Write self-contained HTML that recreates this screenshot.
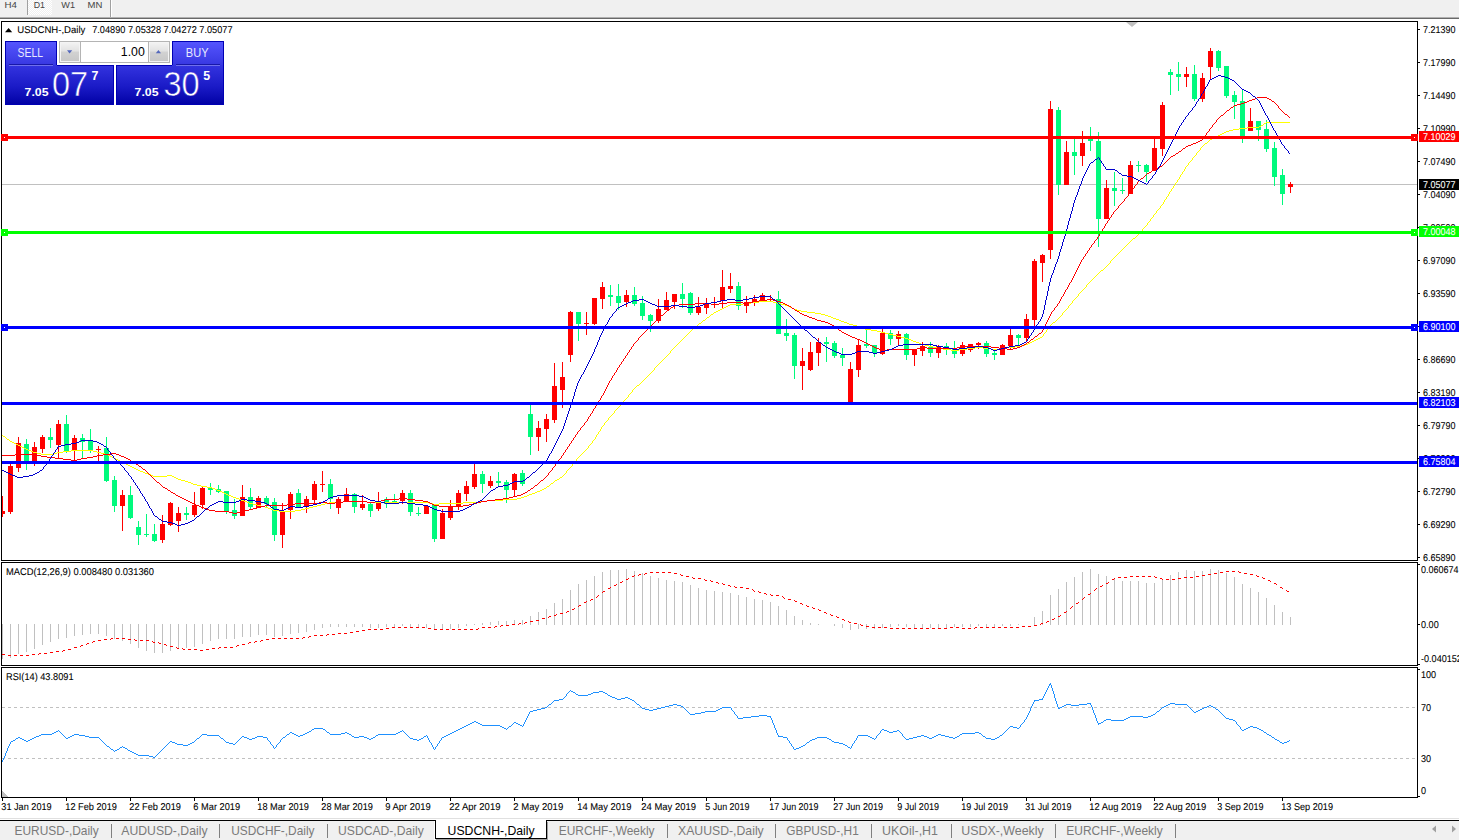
<!DOCTYPE html>
<html><head><meta charset="utf-8"><title>USDCNH-,Daily</title>
<style>html,body{margin:0;padding:0;background:#fff;overflow:hidden}body{width:1459px;height:840px}svg{display:block}text{white-space:pre}.gp text{text-rendering:geometricPrecision}</style>
</head><body>
<svg width="1459" height="840" viewBox="0 0 1459 840" font-family="'Liberation Sans', 'DejaVu Sans', sans-serif">
<defs>
<linearGradient id="gb" x1="0" y1="0" x2="0" y2="1"><stop offset="0" stop-color="#5656ff"/><stop offset="1" stop-color="#3636e0"/></linearGradient>
<linearGradient id="gp" x1="0" y1="0" x2="0" y2="1"><stop offset="0" stop-color="#3434e0"/><stop offset="0.55" stop-color="#1a1ac6"/><stop offset="1" stop-color="#0000a4"/></linearGradient>
<linearGradient id="gpu" gradientUnits="userSpaceOnUse" x1="0" y1="65" x2="0" y2="105"><stop offset="0" stop-color="#3434e0"/><stop offset="0.55" stop-color="#1a1ac6"/><stop offset="1" stop-color="#0000a4"/></linearGradient>
<linearGradient id="gs" x1="0" y1="0" x2="0" y2="1"><stop offset="0" stop-color="#f2f2f2"/><stop offset="0.45" stop-color="#e2e2e2"/><stop offset="0.5" stop-color="#d2d2d2"/><stop offset="1" stop-color="#c8c8c8"/></linearGradient>
<pattern id="chk" width="2" height="2" patternUnits="userSpaceOnUse"><rect width="2" height="2" fill="#f0f0f0"/><rect width="1" height="1" fill="#fff"/><rect x="1" y="1" width="1" height="1" fill="#fff"/></pattern>
</defs>
<g shape-rendering="crispEdges">
<rect x="0" y="0" width="1459" height="840" fill="#fff"/>
<rect x="0" y="0" width="1459" height="17" fill="#f0f0f0"/>
<rect x="0" y="17" width="1459" height="1" fill="#b0b0b0"/>
<rect x="0" y="18" width="1459" height="1" fill="#696969"/>
<rect x="28" y="0" width="24" height="15" fill="url(#chk)"/>
<rect x="27" y="0" width="1" height="15" fill="#a0a0a0"/>
<rect x="110" y="0" width="1" height="17" fill="#a0a0a0"/>
<rect x="111" y="0" width="1" height="17" fill="#fff"/>
<rect x="0" y="818" width="1459" height="1" fill="#e0e0e0"/>
<rect x="0" y="821" width="1459" height="19" fill="#f0f0f0"/>
<rect x="0" y="820" width="1459" height="1" fill="#000"/>
<rect x="434" y="821" width="1" height="19" fill="#fff"/>
<rect x="435" y="820" width="112" height="19" fill="#000"/>
<rect x="436" y="820" width="110" height="18" fill="#fff"/>
<rect x="436" y="839" width="112" height="1" fill="#a0a0a0"/>
<rect x="547" y="822" width="1" height="18" fill="#a0a0a0"/>
<rect x="1" y="21" width="1417" height="1" fill="#000"/>
<rect x="1" y="21" width="1" height="777" fill="#000"/>
<rect x="1417" y="21" width="1" height="777" fill="#000"/>
<rect x="1" y="560" width="1417" height="1" fill="#000"/>
<rect x="1" y="562" width="1417" height="1" fill="#000"/>
<rect x="1" y="665" width="1417" height="1" fill="#000"/>
<rect x="1" y="667" width="1417" height="1" fill="#000"/>
<rect x="1" y="797" width="1417" height="1" fill="#000"/>
<rect x="2" y="184" width="1415" height="1" fill="#c0c0c0"/>
<rect x="2" y="624" width="1" height="35" fill="#c0c0c0"/>
<rect x="10" y="624" width="1" height="34" fill="#c0c0c0"/>
<rect x="18" y="624" width="1" height="30" fill="#c0c0c0"/>
<rect x="26" y="624" width="1" height="28" fill="#c0c0c0"/>
<rect x="34" y="624" width="1" height="25" fill="#c0c0c0"/>
<rect x="42" y="624" width="1" height="21" fill="#c0c0c0"/>
<rect x="50" y="624" width="1" height="18" fill="#c0c0c0"/>
<rect x="58" y="624" width="1" height="15" fill="#c0c0c0"/>
<rect x="66" y="624" width="1" height="14" fill="#c0c0c0"/>
<rect x="74" y="624" width="1" height="12" fill="#c0c0c0"/>
<rect x="82" y="624" width="1" height="11" fill="#c0c0c0"/>
<rect x="90" y="624" width="1" height="10" fill="#c0c0c0"/>
<rect x="98" y="624" width="1" height="10" fill="#c0c0c0"/>
<rect x="106" y="624" width="1" height="12" fill="#c0c0c0"/>
<rect x="114" y="624" width="1" height="15" fill="#c0c0c0"/>
<rect x="122" y="624" width="1" height="17" fill="#c0c0c0"/>
<rect x="130" y="624" width="1" height="20" fill="#c0c0c0"/>
<rect x="138" y="624" width="1" height="24" fill="#c0c0c0"/>
<rect x="146" y="624" width="1" height="27" fill="#c0c0c0"/>
<rect x="154" y="624" width="1" height="29" fill="#c0c0c0"/>
<rect x="162" y="624" width="1" height="29" fill="#c0c0c0"/>
<rect x="170" y="624" width="1" height="27" fill="#c0c0c0"/>
<rect x="178" y="624" width="1" height="25" fill="#c0c0c0"/>
<rect x="186" y="624" width="1" height="24" fill="#c0c0c0"/>
<rect x="194" y="624" width="1" height="23" fill="#c0c0c0"/>
<rect x="202" y="624" width="1" height="20" fill="#c0c0c0"/>
<rect x="210" y="624" width="1" height="17" fill="#c0c0c0"/>
<rect x="218" y="624" width="1" height="15" fill="#c0c0c0"/>
<rect x="226" y="624" width="1" height="15" fill="#c0c0c0"/>
<rect x="234" y="624" width="1" height="15" fill="#c0c0c0"/>
<rect x="242" y="624" width="1" height="13" fill="#c0c0c0"/>
<rect x="250" y="624" width="1" height="13" fill="#c0c0c0"/>
<rect x="258" y="624" width="1" height="11" fill="#c0c0c0"/>
<rect x="266" y="624" width="1" height="11" fill="#c0c0c0"/>
<rect x="274" y="624" width="1" height="13" fill="#c0c0c0"/>
<rect x="282" y="624" width="1" height="12" fill="#c0c0c0"/>
<rect x="290" y="624" width="1" height="10" fill="#c0c0c0"/>
<rect x="298" y="624" width="1" height="9" fill="#c0c0c0"/>
<rect x="306" y="624" width="1" height="8" fill="#c0c0c0"/>
<rect x="314" y="624" width="1" height="6" fill="#c0c0c0"/>
<rect x="322" y="624" width="1" height="4" fill="#c0c0c0"/>
<rect x="330" y="624" width="1" height="3" fill="#c0c0c0"/>
<rect x="338" y="624" width="1" height="3" fill="#c0c0c0"/>
<rect x="346" y="624" width="1" height="3" fill="#c0c0c0"/>
<rect x="354" y="624" width="1" height="3" fill="#c0c0c0"/>
<rect x="362" y="624" width="1" height="3" fill="#c0c0c0"/>
<rect x="370" y="624" width="1" height="4" fill="#c0c0c0"/>
<rect x="378" y="624" width="1" height="4" fill="#c0c0c0"/>
<rect x="386" y="624" width="1" height="3" fill="#c0c0c0"/>
<rect x="394" y="624" width="1" height="3" fill="#c0c0c0"/>
<rect x="402" y="624" width="1" height="2" fill="#c0c0c0"/>
<rect x="410" y="624" width="1" height="3" fill="#c0c0c0"/>
<rect x="418" y="624" width="1" height="3" fill="#c0c0c0"/>
<rect x="426" y="624" width="1" height="4" fill="#c0c0c0"/>
<rect x="434" y="624" width="1" height="6" fill="#c0c0c0"/>
<rect x="442" y="624" width="1" height="6" fill="#c0c0c0"/>
<rect x="450" y="624" width="1" height="5" fill="#c0c0c0"/>
<rect x="458" y="624" width="1" height="4" fill="#c0c0c0"/>
<rect x="466" y="624" width="1" height="2" fill="#c0c0c0"/>
<rect x="474" y="624" width="1" height="1" fill="#c0c0c0"/>
<rect x="482" y="623" width="1" height="2" fill="#c0c0c0"/>
<rect x="490" y="622" width="1" height="3" fill="#c0c0c0"/>
<rect x="498" y="621" width="1" height="4" fill="#c0c0c0"/>
<rect x="506" y="621" width="1" height="4" fill="#c0c0c0"/>
<rect x="514" y="620" width="1" height="5" fill="#c0c0c0"/>
<rect x="522" y="620" width="1" height="5" fill="#c0c0c0"/>
<rect x="530" y="616" width="1" height="9" fill="#c0c0c0"/>
<rect x="538" y="612" width="1" height="13" fill="#c0c0c0"/>
<rect x="546" y="609" width="1" height="16" fill="#c0c0c0"/>
<rect x="554" y="603" width="1" height="22" fill="#c0c0c0"/>
<rect x="562" y="599" width="1" height="26" fill="#c0c0c0"/>
<rect x="570" y="590" width="1" height="35" fill="#c0c0c0"/>
<rect x="578" y="584" width="1" height="41" fill="#c0c0c0"/>
<rect x="586" y="580" width="1" height="45" fill="#c0c0c0"/>
<rect x="594" y="576" width="1" height="49" fill="#c0c0c0"/>
<rect x="602" y="572" width="1" height="53" fill="#c0c0c0"/>
<rect x="610" y="570" width="1" height="55" fill="#c0c0c0"/>
<rect x="618" y="570" width="1" height="55" fill="#c0c0c0"/>
<rect x="626" y="569" width="1" height="56" fill="#c0c0c0"/>
<rect x="634" y="571" width="1" height="54" fill="#c0c0c0"/>
<rect x="642" y="573" width="1" height="52" fill="#c0c0c0"/>
<rect x="650" y="576" width="1" height="49" fill="#c0c0c0"/>
<rect x="658" y="578" width="1" height="47" fill="#c0c0c0"/>
<rect x="666" y="580" width="1" height="45" fill="#c0c0c0"/>
<rect x="674" y="581" width="1" height="44" fill="#c0c0c0"/>
<rect x="682" y="582" width="1" height="43" fill="#c0c0c0"/>
<rect x="690" y="585" width="1" height="40" fill="#c0c0c0"/>
<rect x="698" y="588" width="1" height="37" fill="#c0c0c0"/>
<rect x="706" y="590" width="1" height="35" fill="#c0c0c0"/>
<rect x="714" y="591" width="1" height="34" fill="#c0c0c0"/>
<rect x="722" y="592" width="1" height="33" fill="#c0c0c0"/>
<rect x="730" y="593" width="1" height="32" fill="#c0c0c0"/>
<rect x="738" y="595" width="1" height="30" fill="#c0c0c0"/>
<rect x="746" y="597" width="1" height="28" fill="#c0c0c0"/>
<rect x="754" y="599" width="1" height="26" fill="#c0c0c0"/>
<rect x="762" y="600" width="1" height="25" fill="#c0c0c0"/>
<rect x="770" y="602" width="1" height="23" fill="#c0c0c0"/>
<rect x="778" y="606" width="1" height="19" fill="#c0c0c0"/>
<rect x="786" y="610" width="1" height="15" fill="#c0c0c0"/>
<rect x="794" y="616" width="1" height="9" fill="#c0c0c0"/>
<rect x="802" y="620" width="1" height="5" fill="#c0c0c0"/>
<rect x="810" y="623" width="1" height="2" fill="#c0c0c0"/>
<rect x="818" y="624" width="1" height="1" fill="#c0c0c0"/>
<rect x="834" y="624" width="1" height="2" fill="#c0c0c0"/>
<rect x="842" y="624" width="1" height="4" fill="#c0c0c0"/>
<rect x="850" y="624" width="1" height="6" fill="#c0c0c0"/>
<rect x="858" y="624" width="1" height="5" fill="#c0c0c0"/>
<rect x="866" y="624" width="1" height="5" fill="#c0c0c0"/>
<rect x="874" y="624" width="1" height="5" fill="#c0c0c0"/>
<rect x="882" y="624" width="1" height="4" fill="#c0c0c0"/>
<rect x="890" y="624" width="1" height="3" fill="#c0c0c0"/>
<rect x="898" y="624" width="1" height="2" fill="#c0c0c0"/>
<rect x="906" y="624" width="1" height="3" fill="#c0c0c0"/>
<rect x="914" y="624" width="1" height="4" fill="#c0c0c0"/>
<rect x="922" y="624" width="1" height="4" fill="#c0c0c0"/>
<rect x="930" y="624" width="1" height="4" fill="#c0c0c0"/>
<rect x="938" y="624" width="1" height="4" fill="#c0c0c0"/>
<rect x="946" y="624" width="1" height="4" fill="#c0c0c0"/>
<rect x="954" y="624" width="1" height="3" fill="#c0c0c0"/>
<rect x="962" y="624" width="1" height="3" fill="#c0c0c0"/>
<rect x="970" y="624" width="1" height="3" fill="#c0c0c0"/>
<rect x="978" y="624" width="1" height="2" fill="#c0c0c0"/>
<rect x="986" y="624" width="1" height="3" fill="#c0c0c0"/>
<rect x="994" y="624" width="1" height="3" fill="#c0c0c0"/>
<rect x="1002" y="624" width="1" height="2" fill="#c0c0c0"/>
<rect x="1010" y="624" width="1" height="2" fill="#c0c0c0"/>
<rect x="1018" y="624" width="1" height="1" fill="#c0c0c0"/>
<rect x="1034" y="617" width="1" height="8" fill="#c0c0c0"/>
<rect x="1042" y="611" width="1" height="14" fill="#c0c0c0"/>
<rect x="1050" y="595" width="1" height="30" fill="#c0c0c0"/>
<rect x="1058" y="589" width="1" height="36" fill="#c0c0c0"/>
<rect x="1066" y="582" width="1" height="43" fill="#c0c0c0"/>
<rect x="1074" y="577" width="1" height="48" fill="#c0c0c0"/>
<rect x="1082" y="572" width="1" height="53" fill="#c0c0c0"/>
<rect x="1090" y="569" width="1" height="56" fill="#c0c0c0"/>
<rect x="1098" y="574" width="1" height="51" fill="#c0c0c0"/>
<rect x="1106" y="576" width="1" height="49" fill="#c0c0c0"/>
<rect x="1114" y="579" width="1" height="46" fill="#c0c0c0"/>
<rect x="1122" y="581" width="1" height="44" fill="#c0c0c0"/>
<rect x="1130" y="581" width="1" height="44" fill="#c0c0c0"/>
<rect x="1138" y="581" width="1" height="44" fill="#c0c0c0"/>
<rect x="1146" y="583" width="1" height="42" fill="#c0c0c0"/>
<rect x="1154" y="583" width="1" height="42" fill="#c0c0c0"/>
<rect x="1162" y="580" width="1" height="45" fill="#c0c0c0"/>
<rect x="1170" y="575" width="1" height="50" fill="#c0c0c0"/>
<rect x="1178" y="572" width="1" height="53" fill="#c0c0c0"/>
<rect x="1186" y="570" width="1" height="55" fill="#c0c0c0"/>
<rect x="1194" y="571" width="1" height="54" fill="#c0c0c0"/>
<rect x="1202" y="571" width="1" height="54" fill="#c0c0c0"/>
<rect x="1210" y="569" width="1" height="56" fill="#c0c0c0"/>
<rect x="1218" y="570" width="1" height="55" fill="#c0c0c0"/>
<rect x="1226" y="573" width="1" height="52" fill="#c0c0c0"/>
<rect x="1234" y="577" width="1" height="48" fill="#c0c0c0"/>
<rect x="1242" y="584" width="1" height="41" fill="#c0c0c0"/>
<rect x="1250" y="588" width="1" height="37" fill="#c0c0c0"/>
<rect x="1258" y="592" width="1" height="33" fill="#c0c0c0"/>
<rect x="1266" y="598" width="1" height="27" fill="#c0c0c0"/>
<rect x="1274" y="605" width="1" height="20" fill="#c0c0c0"/>
<rect x="1282" y="612" width="1" height="13" fill="#c0c0c0"/>
<rect x="1290" y="617" width="1" height="8" fill="#c0c0c0"/>
<line x1="2" y1="707.5" x2="1417" y2="707.5" stroke="#c0c0c0" stroke-width="1" stroke-dasharray="3,3"/>
<line x1="2" y1="758.5" x2="1417" y2="758.5" stroke="#c0c0c0" stroke-width="1" stroke-dasharray="3,3"/>
<polygon points="2,791 2,797 8,797" fill="#c0c0c0"/>
<polygon points="1126,22 1138,22 1132,27" fill="#c0c0c0" shape-rendering="auto"/>
<rect x="2" y="496" width="1" height="21" fill="#ff0000"/>
<rect x="2" y="511" width="3" height="3" fill="#ff0000"/>
<rect x="10" y="464" width="1" height="50" fill="#ff0000"/>
<rect x="8" y="466" width="5" height="46" fill="#ff0000"/>
<rect x="18" y="437" width="1" height="35" fill="#ff0000"/>
<rect x="16" y="443" width="5" height="25" fill="#ff0000"/>
<rect x="26" y="439" width="1" height="31" fill="#00fa7d"/>
<rect x="24" y="444" width="5" height="18" fill="#00fa7d"/>
<rect x="34" y="442" width="1" height="24" fill="#ff0000"/>
<rect x="32" y="447" width="5" height="15" fill="#ff0000"/>
<rect x="42" y="435" width="1" height="18" fill="#ff0000"/>
<rect x="40" y="437" width="5" height="12" fill="#ff0000"/>
<rect x="50" y="428" width="1" height="20" fill="#00fa7d"/>
<rect x="48" y="437" width="5" height="3" fill="#00fa7d"/>
<rect x="58" y="420" width="1" height="39" fill="#ff0000"/>
<rect x="56" y="424" width="5" height="21" fill="#ff0000"/>
<rect x="66" y="415" width="1" height="38" fill="#00fa7d"/>
<rect x="64" y="424" width="5" height="27" fill="#00fa7d"/>
<rect x="74" y="435" width="1" height="26" fill="#ff0000"/>
<rect x="72" y="438" width="5" height="13" fill="#ff0000"/>
<rect x="82" y="434" width="1" height="24" fill="#00fa7d"/>
<rect x="80" y="438" width="5" height="4" fill="#00fa7d"/>
<rect x="90" y="429" width="1" height="24" fill="#00fa7d"/>
<rect x="88" y="441" width="5" height="10" fill="#00fa7d"/>
<rect x="98" y="446" width="1" height="15" fill="#ff0000"/>
<rect x="96" y="449" width="5" height="1" fill="#ff0000"/>
<rect x="106" y="437" width="1" height="45" fill="#00fa7d"/>
<rect x="104" y="448" width="5" height="33" fill="#00fa7d"/>
<rect x="114" y="476" width="1" height="36" fill="#00fa7d"/>
<rect x="112" y="480" width="5" height="26" fill="#00fa7d"/>
<rect x="122" y="490" width="1" height="41" fill="#ff0000"/>
<rect x="120" y="495" width="5" height="11" fill="#ff0000"/>
<rect x="130" y="486" width="1" height="33" fill="#00fa7d"/>
<rect x="128" y="495" width="5" height="23" fill="#00fa7d"/>
<rect x="138" y="521" width="1" height="24" fill="#00fa7d"/>
<rect x="136" y="527" width="5" height="8" fill="#00fa7d"/>
<rect x="146" y="514" width="1" height="23" fill="#00fa7d"/>
<rect x="144" y="534" width="5" height="1" fill="#00fa7d"/>
<rect x="154" y="524" width="1" height="18" fill="#00fa7d"/>
<rect x="152" y="534" width="5" height="7" fill="#00fa7d"/>
<rect x="162" y="515" width="1" height="28" fill="#ff0000"/>
<rect x="160" y="524" width="5" height="16" fill="#ff0000"/>
<rect x="170" y="502" width="1" height="24" fill="#ff0000"/>
<rect x="168" y="503" width="5" height="22" fill="#ff0000"/>
<rect x="178" y="507" width="1" height="25" fill="#ff0000"/>
<rect x="176" y="513" width="5" height="8" fill="#ff0000"/>
<rect x="186" y="507" width="1" height="13" fill="#00fa7d"/>
<rect x="184" y="513" width="5" height="2" fill="#00fa7d"/>
<rect x="194" y="492" width="1" height="25" fill="#ff0000"/>
<rect x="192" y="505" width="5" height="10" fill="#ff0000"/>
<rect x="202" y="486" width="1" height="23" fill="#ff0000"/>
<rect x="200" y="488" width="5" height="17" fill="#ff0000"/>
<rect x="210" y="483" width="1" height="12" fill="#00fa7d"/>
<rect x="208" y="488" width="5" height="2" fill="#00fa7d"/>
<rect x="218" y="485" width="1" height="8" fill="#00fa7d"/>
<rect x="216" y="489" width="5" height="3" fill="#00fa7d"/>
<rect x="226" y="491" width="1" height="23" fill="#00fa7d"/>
<rect x="224" y="491" width="5" height="20" fill="#00fa7d"/>
<rect x="234" y="499" width="1" height="20" fill="#00fa7d"/>
<rect x="232" y="510" width="5" height="6" fill="#00fa7d"/>
<rect x="242" y="485" width="1" height="31" fill="#ff0000"/>
<rect x="240" y="497" width="5" height="19" fill="#ff0000"/>
<rect x="250" y="488" width="1" height="21" fill="#00fa7d"/>
<rect x="248" y="497" width="5" height="10" fill="#00fa7d"/>
<rect x="258" y="496" width="1" height="12" fill="#ff0000"/>
<rect x="256" y="498" width="5" height="10" fill="#ff0000"/>
<rect x="266" y="496" width="1" height="12" fill="#00fa7d"/>
<rect x="264" y="498" width="5" height="6" fill="#00fa7d"/>
<rect x="274" y="498" width="1" height="43" fill="#00fa7d"/>
<rect x="272" y="502" width="5" height="33" fill="#00fa7d"/>
<rect x="282" y="503" width="1" height="45" fill="#ff0000"/>
<rect x="280" y="512" width="5" height="23" fill="#ff0000"/>
<rect x="290" y="492" width="1" height="27" fill="#ff0000"/>
<rect x="288" y="494" width="5" height="16" fill="#ff0000"/>
<rect x="298" y="489" width="1" height="19" fill="#00fa7d"/>
<rect x="296" y="493" width="5" height="14" fill="#00fa7d"/>
<rect x="306" y="496" width="1" height="17" fill="#ff0000"/>
<rect x="304" y="499" width="5" height="8" fill="#ff0000"/>
<rect x="314" y="481" width="1" height="22" fill="#ff0000"/>
<rect x="312" y="484" width="5" height="16" fill="#ff0000"/>
<rect x="322" y="471" width="1" height="21" fill="#ff0000"/>
<rect x="320" y="484" width="5" height="1" fill="#ff0000"/>
<rect x="330" y="479" width="1" height="30" fill="#00fa7d"/>
<rect x="328" y="484" width="5" height="15" fill="#00fa7d"/>
<rect x="338" y="497" width="1" height="17" fill="#ff0000"/>
<rect x="336" y="499" width="5" height="9" fill="#ff0000"/>
<rect x="346" y="488" width="1" height="13" fill="#ff0000"/>
<rect x="344" y="494" width="5" height="7" fill="#ff0000"/>
<rect x="354" y="493" width="1" height="20" fill="#00fa7d"/>
<rect x="352" y="494" width="5" height="13" fill="#00fa7d"/>
<rect x="362" y="495" width="1" height="15" fill="#ff0000"/>
<rect x="360" y="504" width="5" height="4" fill="#ff0000"/>
<rect x="370" y="503" width="1" height="14" fill="#00fa7d"/>
<rect x="368" y="504" width="5" height="7" fill="#00fa7d"/>
<rect x="378" y="492" width="1" height="19" fill="#ff0000"/>
<rect x="376" y="501" width="5" height="8" fill="#ff0000"/>
<rect x="386" y="497" width="1" height="11" fill="#00fa7d"/>
<rect x="384" y="499" width="5" height="5" fill="#00fa7d"/>
<rect x="394" y="494" width="1" height="9" fill="#00fa7d"/>
<rect x="392" y="501" width="5" height="1" fill="#00fa7d"/>
<rect x="402" y="490" width="1" height="14" fill="#ff0000"/>
<rect x="400" y="493" width="5" height="8" fill="#ff0000"/>
<rect x="410" y="490" width="1" height="26" fill="#00fa7d"/>
<rect x="408" y="493" width="5" height="19" fill="#00fa7d"/>
<rect x="418" y="507" width="1" height="9" fill="#00fa7d"/>
<rect x="416" y="513" width="5" height="1" fill="#00fa7d"/>
<rect x="426" y="505" width="1" height="9" fill="#ff0000"/>
<rect x="424" y="506" width="5" height="8" fill="#ff0000"/>
<rect x="434" y="504" width="1" height="38" fill="#00fa7d"/>
<rect x="432" y="505" width="5" height="34" fill="#00fa7d"/>
<rect x="442" y="509" width="1" height="30" fill="#ff0000"/>
<rect x="440" y="513" width="5" height="26" fill="#ff0000"/>
<rect x="450" y="500" width="1" height="20" fill="#ff0000"/>
<rect x="448" y="506" width="5" height="12" fill="#ff0000"/>
<rect x="458" y="490" width="1" height="20" fill="#ff0000"/>
<rect x="456" y="493" width="5" height="14" fill="#ff0000"/>
<rect x="466" y="481" width="1" height="20" fill="#ff0000"/>
<rect x="464" y="486" width="5" height="8" fill="#ff0000"/>
<rect x="474" y="464" width="1" height="25" fill="#ff0000"/>
<rect x="472" y="474" width="5" height="13" fill="#ff0000"/>
<rect x="482" y="471" width="1" height="22" fill="#00fa7d"/>
<rect x="480" y="474" width="5" height="10" fill="#00fa7d"/>
<rect x="490" y="476" width="1" height="12" fill="#ff0000"/>
<rect x="488" y="481" width="5" height="5" fill="#ff0000"/>
<rect x="498" y="472" width="1" height="14" fill="#00fa7d"/>
<rect x="496" y="481" width="5" height="2" fill="#00fa7d"/>
<rect x="506" y="480" width="1" height="23" fill="#00fa7d"/>
<rect x="504" y="482" width="5" height="8" fill="#00fa7d"/>
<rect x="514" y="473" width="1" height="23" fill="#ff0000"/>
<rect x="512" y="474" width="5" height="16" fill="#ff0000"/>
<rect x="522" y="470" width="1" height="16" fill="#00fa7d"/>
<rect x="520" y="473" width="5" height="11" fill="#00fa7d"/>
<rect x="530" y="405" width="1" height="50" fill="#00fa7d"/>
<rect x="528" y="414" width="5" height="23" fill="#00fa7d"/>
<rect x="538" y="421" width="1" height="30" fill="#ff0000"/>
<rect x="536" y="428" width="5" height="9" fill="#ff0000"/>
<rect x="546" y="414" width="1" height="28" fill="#ff0000"/>
<rect x="544" y="419" width="5" height="10" fill="#ff0000"/>
<rect x="554" y="363" width="1" height="60" fill="#ff0000"/>
<rect x="552" y="386" width="5" height="34" fill="#ff0000"/>
<rect x="562" y="362" width="1" height="46" fill="#ff0000"/>
<rect x="560" y="377" width="5" height="13" fill="#ff0000"/>
<rect x="570" y="311" width="1" height="51" fill="#ff0000"/>
<rect x="568" y="312" width="5" height="43" fill="#ff0000"/>
<rect x="578" y="312" width="1" height="29" fill="#00fa7d"/>
<rect x="576" y="312" width="5" height="12" fill="#00fa7d"/>
<rect x="586" y="312" width="1" height="23" fill="#ff0000"/>
<rect x="584" y="323" width="5" height="1" fill="#ff0000"/>
<rect x="594" y="298" width="1" height="27" fill="#ff0000"/>
<rect x="592" y="298" width="5" height="26" fill="#ff0000"/>
<rect x="602" y="282" width="1" height="27" fill="#ff0000"/>
<rect x="600" y="287" width="5" height="12" fill="#ff0000"/>
<rect x="610" y="285" width="1" height="21" fill="#00fa7d"/>
<rect x="608" y="295" width="5" height="2" fill="#00fa7d"/>
<rect x="618" y="284" width="1" height="26" fill="#00fa7d"/>
<rect x="616" y="296" width="5" height="7" fill="#00fa7d"/>
<rect x="626" y="290" width="1" height="17" fill="#ff0000"/>
<rect x="624" y="295" width="5" height="7" fill="#ff0000"/>
<rect x="634" y="287" width="1" height="19" fill="#00fa7d"/>
<rect x="632" y="295" width="5" height="9" fill="#00fa7d"/>
<rect x="642" y="296" width="1" height="24" fill="#00fa7d"/>
<rect x="640" y="303" width="5" height="13" fill="#00fa7d"/>
<rect x="650" y="314" width="1" height="18" fill="#00fa7d"/>
<rect x="648" y="315" width="5" height="6" fill="#00fa7d"/>
<rect x="658" y="299" width="1" height="24" fill="#ff0000"/>
<rect x="656" y="309" width="5" height="12" fill="#ff0000"/>
<rect x="666" y="292" width="1" height="18" fill="#ff0000"/>
<rect x="664" y="300" width="5" height="10" fill="#ff0000"/>
<rect x="674" y="294" width="1" height="15" fill="#ff0000"/>
<rect x="672" y="294" width="5" height="8" fill="#ff0000"/>
<rect x="682" y="283" width="1" height="25" fill="#00fa7d"/>
<rect x="680" y="294" width="5" height="5" fill="#00fa7d"/>
<rect x="690" y="292" width="1" height="23" fill="#00fa7d"/>
<rect x="688" y="293" width="5" height="20" fill="#00fa7d"/>
<rect x="698" y="297" width="1" height="18" fill="#ff0000"/>
<rect x="696" y="307" width="5" height="6" fill="#ff0000"/>
<rect x="706" y="298" width="1" height="16" fill="#ff0000"/>
<rect x="704" y="303" width="5" height="5" fill="#ff0000"/>
<rect x="714" y="297" width="1" height="11" fill="#ff0000"/>
<rect x="712" y="304" width="5" height="1" fill="#ff0000"/>
<rect x="722" y="270" width="1" height="38" fill="#ff0000"/>
<rect x="720" y="287" width="5" height="14" fill="#ff0000"/>
<rect x="730" y="273" width="1" height="20" fill="#ff0000"/>
<rect x="728" y="286" width="5" height="3" fill="#ff0000"/>
<rect x="738" y="282" width="1" height="28" fill="#00fa7d"/>
<rect x="736" y="286" width="5" height="20" fill="#00fa7d"/>
<rect x="746" y="296" width="1" height="17" fill="#ff0000"/>
<rect x="744" y="302" width="5" height="4" fill="#ff0000"/>
<rect x="754" y="295" width="1" height="11" fill="#ff0000"/>
<rect x="752" y="299" width="5" height="3" fill="#ff0000"/>
<rect x="762" y="293" width="1" height="8" fill="#ff0000"/>
<rect x="760" y="295" width="5" height="6" fill="#ff0000"/>
<rect x="770" y="295" width="1" height="6" fill="#ff0000"/>
<rect x="768" y="299" width="5" height="1" fill="#ff0000"/>
<rect x="778" y="291" width="1" height="43" fill="#00fa7d"/>
<rect x="776" y="299" width="5" height="35" fill="#00fa7d"/>
<rect x="786" y="319" width="1" height="22" fill="#00fa7d"/>
<rect x="784" y="333" width="5" height="3" fill="#00fa7d"/>
<rect x="794" y="333" width="1" height="46" fill="#00fa7d"/>
<rect x="792" y="335" width="5" height="31" fill="#00fa7d"/>
<rect x="802" y="348" width="1" height="42" fill="#ff0000"/>
<rect x="800" y="361" width="5" height="5" fill="#ff0000"/>
<rect x="810" y="342" width="1" height="29" fill="#ff0000"/>
<rect x="808" y="352" width="5" height="18" fill="#ff0000"/>
<rect x="818" y="338" width="1" height="28" fill="#ff0000"/>
<rect x="816" y="342" width="5" height="11" fill="#ff0000"/>
<rect x="826" y="337" width="1" height="25" fill="#00fa7d"/>
<rect x="824" y="342" width="5" height="2" fill="#00fa7d"/>
<rect x="834" y="341" width="1" height="17" fill="#00fa7d"/>
<rect x="832" y="343" width="5" height="13" fill="#00fa7d"/>
<rect x="842" y="348" width="1" height="18" fill="#00fa7d"/>
<rect x="840" y="355" width="5" height="3" fill="#00fa7d"/>
<rect x="850" y="362" width="1" height="42" fill="#ff0000"/>
<rect x="848" y="369" width="5" height="34" fill="#ff0000"/>
<rect x="858" y="340" width="1" height="37" fill="#ff0000"/>
<rect x="856" y="345" width="5" height="25" fill="#ff0000"/>
<rect x="866" y="329" width="1" height="19" fill="#00fa7d"/>
<rect x="864" y="344" width="5" height="2" fill="#00fa7d"/>
<rect x="874" y="345" width="1" height="12" fill="#00fa7d"/>
<rect x="872" y="345" width="5" height="8" fill="#00fa7d"/>
<rect x="882" y="329" width="1" height="26" fill="#ff0000"/>
<rect x="880" y="333" width="5" height="21" fill="#ff0000"/>
<rect x="890" y="330" width="1" height="15" fill="#00fa7d"/>
<rect x="888" y="333" width="5" height="6" fill="#00fa7d"/>
<rect x="898" y="331" width="1" height="14" fill="#ff0000"/>
<rect x="896" y="334" width="5" height="5" fill="#ff0000"/>
<rect x="906" y="333" width="1" height="27" fill="#00fa7d"/>
<rect x="904" y="334" width="5" height="21" fill="#00fa7d"/>
<rect x="914" y="350" width="1" height="16" fill="#ff0000"/>
<rect x="912" y="350" width="5" height="5" fill="#ff0000"/>
<rect x="922" y="342" width="1" height="14" fill="#ff0000"/>
<rect x="920" y="346" width="5" height="5" fill="#ff0000"/>
<rect x="930" y="342" width="1" height="15" fill="#00fa7d"/>
<rect x="928" y="347" width="5" height="6" fill="#00fa7d"/>
<rect x="938" y="345" width="1" height="13" fill="#ff0000"/>
<rect x="936" y="346" width="5" height="7" fill="#ff0000"/>
<rect x="946" y="343" width="1" height="12" fill="#00fa7d"/>
<rect x="944" y="346" width="5" height="3" fill="#00fa7d"/>
<rect x="954" y="341" width="1" height="17" fill="#00fa7d"/>
<rect x="952" y="349" width="5" height="5" fill="#00fa7d"/>
<rect x="962" y="342" width="1" height="14" fill="#ff0000"/>
<rect x="960" y="345" width="5" height="9" fill="#ff0000"/>
<rect x="970" y="344" width="1" height="8" fill="#ff0000"/>
<rect x="968" y="344" width="5" height="6" fill="#ff0000"/>
<rect x="978" y="342" width="1" height="7" fill="#ff0000"/>
<rect x="976" y="343" width="5" height="2" fill="#ff0000"/>
<rect x="986" y="341" width="1" height="16" fill="#00fa7d"/>
<rect x="984" y="343" width="5" height="11" fill="#00fa7d"/>
<rect x="994" y="349" width="1" height="11" fill="#00fa7d"/>
<rect x="992" y="353" width="5" height="2" fill="#00fa7d"/>
<rect x="1002" y="344" width="1" height="11" fill="#ff0000"/>
<rect x="1000" y="345" width="5" height="10" fill="#ff0000"/>
<rect x="1010" y="329" width="1" height="21" fill="#ff0000"/>
<rect x="1008" y="335" width="5" height="11" fill="#ff0000"/>
<rect x="1018" y="334" width="1" height="11" fill="#00fa7d"/>
<rect x="1016" y="335" width="5" height="3" fill="#00fa7d"/>
<rect x="1026" y="314" width="1" height="27" fill="#ff0000"/>
<rect x="1024" y="319" width="5" height="19" fill="#ff0000"/>
<rect x="1034" y="259" width="1" height="67" fill="#ff0000"/>
<rect x="1032" y="261" width="5" height="59" fill="#ff0000"/>
<rect x="1042" y="254" width="1" height="28" fill="#ff0000"/>
<rect x="1040" y="255" width="5" height="8" fill="#ff0000"/>
<rect x="1050" y="101" width="1" height="158" fill="#ff0000"/>
<rect x="1048" y="109" width="5" height="141" fill="#ff0000"/>
<rect x="1058" y="107" width="1" height="88" fill="#00fa7d"/>
<rect x="1056" y="110" width="5" height="75" fill="#00fa7d"/>
<rect x="1066" y="141" width="1" height="44" fill="#ff0000"/>
<rect x="1064" y="152" width="5" height="33" fill="#ff0000"/>
<rect x="1074" y="139" width="1" height="36" fill="#00fa7d"/>
<rect x="1072" y="152" width="5" height="4" fill="#00fa7d"/>
<rect x="1082" y="131" width="1" height="35" fill="#ff0000"/>
<rect x="1080" y="143" width="5" height="13" fill="#ff0000"/>
<rect x="1090" y="127" width="1" height="24" fill="#00fa7d"/>
<rect x="1088" y="139" width="5" height="2" fill="#00fa7d"/>
<rect x="1098" y="132" width="1" height="115" fill="#00fa7d"/>
<rect x="1096" y="141" width="5" height="78" fill="#00fa7d"/>
<rect x="1106" y="180" width="1" height="39" fill="#ff0000"/>
<rect x="1104" y="188" width="5" height="31" fill="#ff0000"/>
<rect x="1114" y="172" width="1" height="34" fill="#00fa7d"/>
<rect x="1112" y="188" width="5" height="3" fill="#00fa7d"/>
<rect x="1122" y="178" width="1" height="16" fill="#00fa7d"/>
<rect x="1120" y="190" width="5" height="1" fill="#00fa7d"/>
<rect x="1130" y="161" width="1" height="33" fill="#ff0000"/>
<rect x="1128" y="165" width="5" height="29" fill="#ff0000"/>
<rect x="1138" y="161" width="1" height="11" fill="#00fa7d"/>
<rect x="1136" y="165" width="5" height="1" fill="#00fa7d"/>
<rect x="1146" y="164" width="1" height="18" fill="#00fa7d"/>
<rect x="1144" y="165" width="5" height="7" fill="#00fa7d"/>
<rect x="1154" y="139" width="1" height="32" fill="#ff0000"/>
<rect x="1152" y="148" width="5" height="23" fill="#ff0000"/>
<rect x="1162" y="102" width="1" height="54" fill="#ff0000"/>
<rect x="1160" y="105" width="5" height="44" fill="#ff0000"/>
<rect x="1170" y="69" width="1" height="26" fill="#00fa7d"/>
<rect x="1168" y="72" width="5" height="3" fill="#00fa7d"/>
<rect x="1178" y="62" width="1" height="29" fill="#00fa7d"/>
<rect x="1176" y="74" width="5" height="3" fill="#00fa7d"/>
<rect x="1186" y="67" width="1" height="20" fill="#ff0000"/>
<rect x="1184" y="74" width="5" height="3" fill="#ff0000"/>
<rect x="1194" y="65" width="1" height="36" fill="#00fa7d"/>
<rect x="1192" y="74" width="5" height="25" fill="#00fa7d"/>
<rect x="1202" y="73" width="1" height="29" fill="#ff0000"/>
<rect x="1200" y="78" width="5" height="21" fill="#ff0000"/>
<rect x="1210" y="48" width="1" height="31" fill="#ff0000"/>
<rect x="1208" y="51" width="5" height="16" fill="#ff0000"/>
<rect x="1218" y="50" width="1" height="21" fill="#00fa7d"/>
<rect x="1216" y="51" width="5" height="17" fill="#00fa7d"/>
<rect x="1226" y="66" width="1" height="32" fill="#00fa7d"/>
<rect x="1224" y="66" width="5" height="30" fill="#00fa7d"/>
<rect x="1234" y="91" width="1" height="28" fill="#00fa7d"/>
<rect x="1232" y="95" width="5" height="7" fill="#00fa7d"/>
<rect x="1242" y="90" width="1" height="53" fill="#00fa7d"/>
<rect x="1240" y="101" width="5" height="36" fill="#00fa7d"/>
<rect x="1250" y="108" width="1" height="23" fill="#ff0000"/>
<rect x="1248" y="121" width="5" height="10" fill="#ff0000"/>
<rect x="1258" y="121" width="1" height="20" fill="#00fa7d"/>
<rect x="1256" y="121" width="5" height="9" fill="#00fa7d"/>
<rect x="1266" y="120" width="1" height="32" fill="#00fa7d"/>
<rect x="1264" y="129" width="5" height="20" fill="#00fa7d"/>
<rect x="1274" y="142" width="1" height="44" fill="#00fa7d"/>
<rect x="1272" y="148" width="5" height="29" fill="#00fa7d"/>
<rect x="1282" y="169" width="1" height="36" fill="#00fa7d"/>
<rect x="1280" y="175" width="5" height="19" fill="#00fa7d"/>
<rect x="1290" y="182" width="1" height="11" fill="#ff0000"/>
<rect x="1288" y="184" width="5" height="3" fill="#ff0000"/>
<path d="M2 435.5h1M3 436.5h2M5 437.5h1M6 438.5h1M7 439.5h2M9 440.5h1M10 441.5h2M12 442.5h2M14 443.5h2M16 444.5h2M18 445.5h2M20 446.5h2M22 447.5h2M24 448.5h2M26 449.5h2M28 450.5h3M31 451.5h2M33 452.5h4M37 453.5h4M41 454.5h12M53 453.5h4M57 452.5h6M63 451.5h8M71 450.5h22M93 451.5h4M97 452.5h4M101 453.5h4M105 454.5h3M108 455.5h2M110 456.5h2M112 457.5h2M114 458.5h2M116 459.5h2M118 460.5h2M120 461.5h2M122 462.5h2M124 463.5h2M126 464.5h2M128 465.5h2M130 466.5h2M132 467.5h2M134 468.5h2M136 469.5h2M138 470.5h2M140 471.5h3M143 472.5h2M145 473.5h3M148 474.5h3M151 475.5h2M153 476.5h14M167 475.5h5M172 476.5h2M174 477.5h2M176 478.5h2M178 479.5h3M181 480.5h4M185 481.5h3M188 482.5h3M191 483.5h2M193 484.5h4M197 485.5h4M201 486.5h6M207 487.5h5M212 488.5h3M215 489.5h2M217 490.5h3M220 491.5h2M222 492.5h2M224 493.5h2M226 494.5h2M228 495.5h3M231 496.5h2M233 497.5h3M236 498.5h3M239 499.5h2M241 500.5h3M244 501.5h3M247 502.5h2M249 503.5h4M253 504.5h4M257 505.5h4M261 506.5h4M265 507.5h3M268 508.5h3M271 509.5h2M273 510.5h6M279 511.5h16M295 510.5h6M301 509.5h4M305 508.5h4M309 507.5h4M313 506.5h4M317 505.5h4M321 504.5h4M325 503.5h4M329 502.5h14M343 501.5h24M367 502.5h62M429 503.5h4M433 504.5h6M439 503.5h24M463 502.5h16M479 501.5h8M487 500.5h16M503 499.5h14M517 498.5h4M521 497.5h3M524 496.5h3M527 495.5h2M529 494.5h3M532 493.5h3M535 492.5h2M537 491.5h3M540 490.5h2M542 489.5h2M544 488.5h2M546 487.5h1M547 486.5h2M549 485.5h1M550 484.5h1M551 483.5h2M553 482.5h1M554 481.5h1M555 480.5h2M557 479.5h2M559 478.5h1M560 477.5h2M562 476.5h1M563 475.5h1M564 474.5h1M565 473.5h1M566.5 471v2M567 470.5h1M568 469.5h1M569 468.5h1M570 467.5h1M571 466.5h1M572.5 464v2M573 463.5h1M574 462.5h1M575 461.5h1M576.5 459v2M577 458.5h1M578 457.5h1M579 456.5h1M580 455.5h1M581 454.5h1M582 453.5h1M583 452.5h1M584 451.5h1M585 450.5h1M586 449.5h1M587 448.5h1M588.5 446v2M589 445.5h1M590 444.5h1M591 443.5h1M592.5 441v2M593 440.5h1M594 439.5h1M595.5 437v2M596.5 435v2M597 434.5h1M598.5 432v2M599 431.5h1M600.5 429v2M601.5 427v2M602 426.5h1M603 425.5h1M604.5 423v2M605 422.5h1M606 421.5h1M607 420.5h1M608.5 418v2M609 417.5h1M610 416.5h1M611 415.5h1M612 414.5h1M613 413.5h1M614.5 411v2M615 410.5h1M616 409.5h1M617 408.5h1M618 407.5h1M619 406.5h1M620 405.5h1M621 404.5h1M622.5 402v2M623 401.5h1M624 400.5h1M625 399.5h1M626 398.5h1M627 397.5h1M628.5 395v2M629 394.5h1M630 393.5h1M631 392.5h1M632.5 390v2M633 389.5h1M634 388.5h1M635 387.5h1M636 386.5h1M637 385.5h2M639 384.5h1M640 383.5h1M641 382.5h1M642 381.5h1M643 380.5h1M644 379.5h1M645 378.5h1M646 377.5h1M647 376.5h1M648 375.5h1M649 374.5h1M650 373.5h1M651 372.5h1M652 371.5h1M653 370.5h1M654.5 368v2M655 367.5h1M656 366.5h1M657 365.5h1M658 364.5h1M659 363.5h1M660 362.5h1M661 361.5h1M662 360.5h1M663 359.5h1M664 358.5h1M665 357.5h1M666 356.5h1M667 355.5h1M668 354.5h1M669 353.5h1M670.5 351v2M671 350.5h1M672 349.5h1M673 348.5h1M674 347.5h1M675 346.5h1M676 345.5h1M677 344.5h1M678 343.5h1M679 342.5h1M680 341.5h1M681 340.5h1M682 339.5h1M683 338.5h1M684 337.5h1M685 336.5h1M686 335.5h1M687 334.5h1M688 333.5h1M689 332.5h1M690 331.5h1M691 330.5h1M692 329.5h1M693 328.5h2M695 327.5h1M696 326.5h1M697 325.5h1M698 324.5h1M699 323.5h2M701 322.5h1M702 321.5h1M703 320.5h2M705 319.5h1M706 318.5h1M707 317.5h2M709 316.5h1M710 315.5h1M711 314.5h2M713 313.5h1M714 312.5h2M716 311.5h2M718 310.5h2M720 309.5h2M722 308.5h2M724 307.5h2M726 306.5h2M728 305.5h2M730 304.5h13M743 303.5h8M751 302.5h8M759 301.5h14M773 302.5h4M777 303.5h4M781 304.5h4M785 305.5h3M788 306.5h2M790 307.5h2M792 308.5h2M794 309.5h3M797 310.5h4M801 311.5h6M807 312.5h8M815 313.5h6M821 314.5h4M825 315.5h3M828 316.5h3M831 317.5h2M833 318.5h3M836 319.5h3M839 320.5h2M841 321.5h3M844 322.5h3M847 323.5h2M849 324.5h4M853 325.5h4M857 326.5h3M860 327.5h3M863 328.5h2M865 329.5h6M871 330.5h6M877 331.5h4M881 332.5h4M885 333.5h4M889 334.5h4M893 335.5h4M897 336.5h4M901 337.5h4M905 338.5h3M908 339.5h3M911 340.5h2M913 341.5h3M916 342.5h3M919 343.5h2M921 344.5h4M925 345.5h4M929 346.5h4M933 347.5h4M937 348.5h6M943 349.5h8M951 350.5h8M959 349.5h8M967 348.5h8M975 347.5h8M983 348.5h8M991 349.5h8M999 348.5h8M1007 347.5h8M1015 346.5h6M1021 345.5h4M1025 344.5h3M1028 343.5h2M1030 342.5h2M1032 341.5h2M1034 340.5h2M1036 339.5h2M1038 338.5h2M1040 337.5h2M1042 336.5h1M1043.5 334v2M1044 333.5h1M1045 332.5h1M1046.5 330v2M1047 329.5h1M1048 328.5h1M1049.5 326v2M1050 325.5h1M1051 324.5h1M1052 323.5h1M1053 322.5h2M1055 321.5h1M1056 320.5h1M1057 319.5h1M1058 318.5h1M1059 317.5h1M1060 316.5h1M1061 315.5h1M1062.5 313v2M1063 312.5h1M1064 311.5h1M1065 310.5h1M1066 309.5h1M1067 308.5h1M1068.5 306v2M1069 305.5h1M1070 304.5h1M1071 303.5h1M1072.5 301v2M1073 300.5h1M1074 299.5h1M1075 298.5h1M1076 297.5h1M1077 296.5h1M1078.5 294v2M1079 293.5h1M1080 292.5h1M1081 291.5h1M1082 290.5h1M1083 289.5h1M1084 288.5h1M1085 287.5h1M1086.5 285v2M1087 284.5h1M1088 283.5h1M1089 282.5h1M1090 281.5h1M1091 280.5h1M1092 279.5h1M1093 278.5h1M1094 277.5h1M1095 276.5h1M1096 275.5h1M1097 274.5h1M1098 273.5h1M1099 272.5h1M1100 271.5h1M1101 270.5h2M1103 269.5h1M1104 268.5h1M1105 267.5h1M1106 266.5h1M1107 265.5h1M1108 264.5h1M1109 263.5h1M1110.5 261v2M1111 260.5h1M1112 259.5h1M1113 258.5h1M1114 257.5h1M1115 256.5h1M1116 255.5h1M1117 254.5h1M1118 253.5h1M1119 252.5h1M1120 251.5h1M1121 250.5h1M1122 249.5h1M1123 248.5h1M1124 247.5h1M1125 246.5h1M1126 245.5h1M1127 244.5h1M1128 243.5h1M1129 242.5h1M1130 241.5h1M1131 240.5h1M1132 239.5h1M1133 238.5h2M1135 237.5h1M1136 236.5h1M1137 235.5h1M1138 234.5h1M1139 233.5h1M1140 232.5h1M1141 231.5h1M1142.5 229v2M1143 228.5h1M1144 227.5h1M1145 226.5h1M1146 225.5h1M1147.5 223v2M1148 222.5h1M1149 221.5h1M1150.5 219v2M1151 218.5h1M1152 217.5h1M1153.5 215v2M1154 214.5h1M1155 213.5h1M1156.5 211v2M1157 210.5h1M1158 209.5h1M1159 208.5h1M1160.5 206v2M1161 205.5h1M1162 204.5h1M1163.5 202v2M1164.5 200v2M1165 199.5h1M1166.5 197v2M1167 196.5h1M1168.5 194v2M1169.5 192v2M1170 191.5h1M1171.5 189v2M1172 188.5h1M1173.5 186v2M1174 185.5h1M1175.5 183v2M1176 182.5h1M1177.5 180v2M1178 179.5h1M1179.5 177v2M1180.5 175v2M1181 174.5h1M1182.5 172v2M1183 171.5h1M1184.5 169v2M1185.5 167v2M1186 166.5h1M1187 165.5h1M1188.5 163v2M1189 162.5h1M1190 161.5h1M1191 160.5h1M1192.5 158v2M1193 157.5h1M1194 156.5h1M1195 155.5h1M1196.5 153v2M1197 152.5h1M1198 151.5h1M1199 150.5h1M1200.5 148v2M1201 147.5h1M1202 146.5h1M1203 145.5h1M1204 144.5h1M1205 143.5h2M1207 142.5h1M1208 141.5h1M1209 140.5h1M1210 139.5h2M1212 138.5h2M1214 137.5h2M1216 136.5h2M1218 135.5h2M1220 134.5h2M1222 133.5h2M1224 132.5h2M1226 131.5h3M1229 130.5h4M1233 129.5h6M1239 128.5h8M1247 127.5h12M1259 126.5h2M1261 125.5h2M1263 124.5h1M1264 123.5h2M1266 122.5h24" fill="none" stroke="#ffff00" stroke-width="1"/>
<path d="M2 455.5h13M15 454.5h22M37 455.5h4M41 456.5h6M47 457.5h8M55 458.5h8M63 459.5h8M71 460.5h6M77 459.5h4M81 458.5h6M87 457.5h6M93 456.5h4M97 455.5h6M103 454.5h8M111 453.5h5M116 454.5h3M119 455.5h2M121 456.5h3M124 457.5h2M126 458.5h2M128 459.5h2M130 460.5h1M131 461.5h2M133 462.5h2M135 463.5h1M136 464.5h2M138 465.5h1M139 466.5h2M141 467.5h1M142 468.5h1M143 469.5h2M145 470.5h1M146 471.5h1M147 472.5h1M148 473.5h1M149 474.5h1M150 475.5h1M151 476.5h1M152 477.5h1M153 478.5h1M154 479.5h1M155 480.5h1M156 481.5h1M157 482.5h2M159 483.5h1M160 484.5h1M161 485.5h1M162 486.5h1M163 487.5h2M165 488.5h2M167 489.5h1M168 490.5h2M170 491.5h1M171 492.5h2M173 493.5h2M175 494.5h1M176 495.5h2M178 496.5h2M180 497.5h2M182 498.5h2M184 499.5h2M186 500.5h2M188 501.5h2M190 502.5h2M192 503.5h2M194 504.5h2M196 505.5h3M199 506.5h2M201 507.5h3M204 508.5h3M207 509.5h2M209 510.5h6M215 511.5h14M229 512.5h4M233 513.5h4M237 512.5h4M241 511.5h4M245 510.5h4M249 509.5h4M253 508.5h4M257 507.5h4M261 506.5h4M265 505.5h22M287 504.5h8M295 503.5h24M319 502.5h8M327 503.5h8M335 502.5h8M343 501.5h24M367 502.5h8M375 501.5h6M381 500.5h4M385 499.5h14M399 498.5h8M407 499.5h8M415 500.5h8M423 501.5h5M428 502.5h2M430 503.5h2M432 504.5h2M434 505.5h5M439 506.5h24M463 505.5h6M469 504.5h4M473 503.5h4M477 502.5h4M481 501.5h6M487 500.5h8M495 499.5h8M503 498.5h6M509 497.5h4M513 496.5h4M517 495.5h4M521 494.5h2M523 493.5h2M525 492.5h2M527 491.5h1M528 490.5h2M530 489.5h1M531 488.5h2M533 487.5h1M534 486.5h1M535 485.5h2M537 484.5h1M538 483.5h1M539 482.5h1M540 481.5h1M541 480.5h2M543 479.5h1M544 478.5h1M545 477.5h1M546 476.5h1M547 475.5h1M548.5 473v2M549 472.5h1M550 471.5h1M551 470.5h1M552.5 468v2M553 467.5h1M554 466.5h1M555.5 464v2M556 463.5h1M557 462.5h1M558.5 460v2M559 459.5h1M560 458.5h1M561.5 456v2M562 455.5h1M563.5 453v2M564 452.5h1M565.5 450v2M566 449.5h1M567.5 447v2M568 446.5h1M569.5 444v2M570 443.5h1M571.5 441v2M572 440.5h1M573.5 438v2M574 437.5h1M575.5 435v2M576 434.5h1M577.5 432v2M578 431.5h1M579 430.5h1M580.5 428v2M581 427.5h1M582 426.5h1M583 425.5h1M584.5 423v2M585 422.5h1M586 421.5h1M587.5 419v2M588.5 417v2M589 416.5h1M590.5 414v2M591 413.5h1M592.5 411v2M593.5 409v2M594 408.5h1M595.5 406v2M596.5 404v2M597 403.5h1M598.5 401v2M599 400.5h1M600.5 398v2M601.5 396v2M602 395.5h1M603.5 393v2M604.5 391v2M605.5 389v2M606.5 387v2M607.5 385v2M608.5 383v2M609.5 381v2M610 380.5h1M611.5 378v2M612.5 376v2M613 375.5h1M614.5 373v2M615 372.5h1M616.5 370v2M617.5 368v2M618 367.5h1M619.5 365v2M620 364.5h1M621.5 362v2M622 361.5h1M623.5 359v2M624 358.5h1M625.5 356v2M626 355.5h1M627.5 353v2M628 352.5h1M629.5 350v2M630 349.5h1M631.5 347v2M632 346.5h1M633.5 344v2M634 343.5h1M635 342.5h1M636 341.5h1M637 340.5h1M638.5 338v2M639 337.5h1M640 336.5h1M641 335.5h1M642 334.5h1M643 333.5h1M644 332.5h1M645 331.5h1M646 330.5h1M647 329.5h1M648 328.5h1M649 327.5h1M650 326.5h1M651 325.5h1M652 324.5h1M653 323.5h1M654 322.5h1M655 321.5h1M656 320.5h1M657 319.5h1M658 318.5h1M659 317.5h1M660 316.5h1M661 315.5h2M663 314.5h1M664 313.5h1M665 312.5h1M666 311.5h1M667 310.5h2M669 309.5h1M670 308.5h1M671 307.5h2M673 306.5h1M674 305.5h5M679 304.5h16M695 303.5h16M711 304.5h8M719 303.5h8M727 302.5h16M743 303.5h6M749 302.5h4M753 301.5h6M759 300.5h8M767 299.5h6M773 300.5h4M777 301.5h3M780 302.5h3M783 303.5h2M785 304.5h2M787 305.5h2M789 306.5h2M791 307.5h1M792 308.5h2M794 309.5h1M795 310.5h2M797 311.5h2M799 312.5h1M800 313.5h2M802 314.5h2M804 315.5h3M807 316.5h2M809 317.5h3M812 318.5h3M815 319.5h2M817 320.5h4M821 321.5h4M825 322.5h3M828 323.5h2M830 324.5h2M832 325.5h2M834 326.5h1M835 327.5h2M837 328.5h1M838 329.5h1M839 330.5h2M841 331.5h1M842 332.5h2M844 333.5h2M846 334.5h2M848 335.5h2M850 336.5h2M852 337.5h3M855 338.5h2M857 339.5h3M860 340.5h2M862 341.5h2M864 342.5h2M866 343.5h2M868 344.5h2M870 345.5h2M872 346.5h2M874 347.5h2M876 348.5h3M879 349.5h2M881 350.5h6M887 349.5h30M917 348.5h4M921 347.5h6M927 348.5h30M957 347.5h4M961 346.5h30M991 347.5h8M999 348.5h8M1007 349.5h6M1013 348.5h4M1017 347.5h3M1020 346.5h2M1022 345.5h2M1024 344.5h2M1026 343.5h1M1027 342.5h2M1029 341.5h1M1030 340.5h1M1031 339.5h2M1033 338.5h1M1034 337.5h1M1035 336.5h2M1037 335.5h1M1038 334.5h1M1039 333.5h2M1041 332.5h1M1042.5 330v2M1043.5 328v2M1044.5 326v2M1045.5 324v2M1046.5 322v2M1047.5 320v2M1048.5 318v2M1049.5 316v2M1050.5 314v2M1051.5 312v2M1052 311.5h1M1053 310.5h1M1054.5 308v2M1055 307.5h1M1056 306.5h1M1057.5 304v2M1058 303.5h1M1059.5 301v2M1060.5 299v2M1061.5 297v2M1062 296.5h1M1063.5 294v2M1064.5 292v2M1065.5 290v2M1066 289.5h1M1067.5 287v2M1068.5 285v2M1069.5 283v2M1070 282.5h1M1071.5 280v2M1072.5 278v2M1073.5 276v2M1074.5 274v2M1075.5 272v2M1076.5 270v2M1077.5 268v2M1078.5 266v2M1079.5 264v2M1080.5 262v2M1081.5 260v2M1082 259.5h1M1083.5 257v2M1084 256.5h1M1085.5 254v2M1086 253.5h1M1087.5 251v2M1088 250.5h1M1089.5 248v2M1090 247.5h1M1091.5 245v2M1092 244.5h1M1093 243.5h1M1094.5 241v2M1095 240.5h1M1096 239.5h1M1097.5 237v2M1098 236.5h1M1099.5 234v2M1100.5 232v2M1101 231.5h1M1102.5 229v2M1103 228.5h1M1104.5 226v2M1105.5 224v2M1106 223.5h1M1107.5 221v2M1108 220.5h1M1109.5 218v2M1110 217.5h1M1111.5 215v2M1112 214.5h1M1113.5 212v2M1114 211.5h1M1115 210.5h1M1116 209.5h1M1117 208.5h1M1118.5 206v2M1119 205.5h1M1120 204.5h1M1121 203.5h1M1122 202.5h1M1123 201.5h1M1124.5 199v2M1125 198.5h1M1126 197.5h1M1127 196.5h1M1128.5 194v2M1129 193.5h1M1130 192.5h1M1131.5 190v2M1132 189.5h1M1133 188.5h1M1134.5 186v2M1135 185.5h1M1136 184.5h1M1137.5 182v2M1138 181.5h1M1139 180.5h1M1140 179.5h1M1141 178.5h2M1143 177.5h1M1144 176.5h1M1145 175.5h1M1146 174.5h1M1147 173.5h2M1149 172.5h2M1151 171.5h1M1152 170.5h2M1154 169.5h2M1156 168.5h2M1158 167.5h2M1160 166.5h2M1162 165.5h1M1163 164.5h1M1164 163.5h1M1165 162.5h1M1166 161.5h1M1167 160.5h1M1168 159.5h1M1169 158.5h1M1170 157.5h1M1171 156.5h2M1173 155.5h2M1175 154.5h1M1176 153.5h2M1178 152.5h1M1179 151.5h2M1181 150.5h1M1182 149.5h1M1183 148.5h2M1185 147.5h1M1186 146.5h2M1188 145.5h3M1191 144.5h2M1193 143.5h3M1196 142.5h2M1198 141.5h2M1200 140.5h2M1202 139.5h1M1203.5 137v2M1204 136.5h1M1205 135.5h1M1206.5 133v2M1207 132.5h1M1208 131.5h1M1209.5 129v2M1210 128.5h1M1211 127.5h1M1212.5 125v2M1213 124.5h1M1214 123.5h1M1215 122.5h1M1216.5 120v2M1217 119.5h1M1218 118.5h1M1219 117.5h1M1220 116.5h1M1221 115.5h2M1223 114.5h1M1224 113.5h1M1225 112.5h1M1226 111.5h1M1227 110.5h2M1229 109.5h1M1230 108.5h1M1231 107.5h2M1233 106.5h1M1234 105.5h3M1237 104.5h4M1241 103.5h3M1244 102.5h3M1247 101.5h2M1249 100.5h3M1252 99.5h3M1255 98.5h2M1257 97.5h10M1267 98.5h2M1269 99.5h2M1271 100.5h1M1272 101.5h2M1274 102.5h1M1275 103.5h1M1276 104.5h1M1277 105.5h1M1278.5 106v2M1279 108.5h1M1280 109.5h1M1281 110.5h1M1282 111.5h1M1283 112.5h1M1284 113.5h1M1285 114.5h2M1287 115.5h1M1288 116.5h1M1289 117.5h1" fill="none" stroke="#ff0000" stroke-width="1"/>
<path d="M2 470.5h2M4 471.5h2M6 472.5h2M8 473.5h2M10 474.5h2M12 475.5h3M15 476.5h2M17 477.5h6M23 476.5h6M29 475.5h4M33 474.5h2M35 473.5h2M37 472.5h2M39 471.5h1M40 470.5h2M42 469.5h1M43.5 467v2M44 466.5h1M45 465.5h1M46.5 463v2M47 462.5h1M48 461.5h1M49.5 459v2M50 458.5h1M51.5 456v2M52 455.5h1M53.5 453v2M54 452.5h1M55.5 450v2M56 449.5h1M57.5 447v2M58 446.5h3M61 445.5h4M65 444.5h6M71 443.5h5M76 442.5h3M79 441.5h2M81 440.5h12M93 441.5h4M97 442.5h2M99 443.5h2M101 444.5h2M103 445.5h1M104 446.5h2M106 447.5h1M107.5 448v2M108 450.5h1M109 451.5h1M110.5 452v2M111 454.5h1M112 455.5h1M113.5 456v2M114 458.5h1M115 459.5h1M116 460.5h1M117 461.5h1M118 462.5h1M119 463.5h1M120 464.5h1M121 465.5h1M122 466.5h1M123 467.5h1M124.5 468v2M125 470.5h1M126 471.5h1M127 472.5h1M128.5 473v2M129 475.5h1M130 476.5h1M131.5 477v2M132 479.5h1M133.5 480v2M134 482.5h1M135.5 483v2M136 485.5h1M137.5 486v2M138 488.5h1M139.5 489v2M140.5 491v2M141 493.5h1M142.5 494v2M143 496.5h1M144.5 497v2M145.5 499v2M146 501.5h1M147.5 502v2M148.5 504v2M149.5 506v2M150 508.5h1M151.5 509v2M152.5 511v2M153.5 513v2M154 515.5h1M155 516.5h2M157 517.5h1M158 518.5h1M159 519.5h2M161 520.5h1M162 521.5h5M167 522.5h5M172 523.5h3M175 524.5h2M177 525.5h4M181 524.5h4M185 523.5h3M188 522.5h2M190 521.5h2M192 520.5h2M194 519.5h1M195 518.5h1M196 517.5h1M197 516.5h2M199 515.5h1M200 514.5h1M201 513.5h1M202 512.5h1M203 511.5h1M204 510.5h1M205 509.5h2M207 508.5h1M208 507.5h1M209 506.5h1M210 505.5h2M212 504.5h2M214 503.5h2M216 502.5h2M218 501.5h5M223 502.5h13M236 501.5h3M239 500.5h2M241 499.5h6M247 500.5h8M255 501.5h6M261 502.5h4M265 503.5h2M267 504.5h2M269 505.5h1M270 506.5h1M271 507.5h2M273 508.5h1M274 509.5h5M279 510.5h5M284 509.5h2M286 508.5h2M288 507.5h2M290 506.5h5M295 507.5h8M303 506.5h6M309 505.5h4M313 504.5h4M317 503.5h4M321 502.5h2M323 501.5h2M325 500.5h2M327 499.5h1M328 498.5h2M330 497.5h3M333 496.5h4M337 495.5h22M359 496.5h5M364 497.5h2M366 498.5h2M368 499.5h2M370 500.5h5M375 501.5h6M381 502.5h4M385 503.5h14M399 502.5h8M407 503.5h8M415 504.5h8M423 505.5h5M428 506.5h2M430 507.5h2M432 508.5h2M434 509.5h3M437 510.5h4M441 511.5h19M460 510.5h3M463 509.5h2M465 508.5h2M467 507.5h2M469 506.5h2M471 505.5h1M472 504.5h2M474 503.5h2M476 502.5h2M478 501.5h2M480 500.5h2M482 499.5h1M483 498.5h1M484 497.5h1M485 496.5h1M486 495.5h1M487 494.5h1M488 493.5h1M489 492.5h1M490 491.5h1M491 490.5h2M493 489.5h2M495 488.5h1M496 487.5h2M498 486.5h5M503 485.5h5M508 484.5h2M510 483.5h2M512 482.5h2M514 481.5h9M523 480.5h2M525 479.5h1M526 478.5h1M527 477.5h2M529 476.5h1M530 475.5h1M531 474.5h1M532 473.5h1M533 472.5h2M535 471.5h1M536 470.5h1M537 469.5h1M538 468.5h1M539 467.5h1M540 466.5h1M541 465.5h1M542 464.5h1M543 463.5h1M544 462.5h1M545 461.5h1M546 460.5h1M547.5 458v2M548.5 456v2M549.5 454v2M550 453.5h1M551.5 451v2M552.5 449v2M553.5 447v2M554.5 445v2M555.5 443v2M556.5 441v2M557.5 439v2M558.5 437v2M559.5 435v2M560.5 433v2M561.5 431v2M562.5 429v2M563.5 426v3M564.5 423v3M565.5 420v3M566.5 417v3M567.5 414v3M568.5 411v3M569.5 408v3M570.5 405v3M571.5 402v3M572.5 399v3M573.5 396v3M574.5 392v4M575.5 389v3M576.5 386v3M577.5 383v3M578.5 381v2M579.5 379v2M580.5 377v2M581.5 375v2M582 374.5h1M583.5 372v2M584.5 370v2M585.5 368v2M586.5 366v2M587.5 364v2M588.5 362v2M589.5 360v2M590.5 358v2M591.5 356v2M592.5 354v2M593.5 352v2M594.5 349v3M595.5 347v2M596.5 345v2M597.5 342v3M598.5 340v2M599.5 337v3M600.5 335v2M601.5 333v2M602.5 331v2M603.5 329v2M604.5 327v2M605.5 325v2M606 324.5h1M607.5 322v2M608.5 320v2M609.5 318v2M610 317.5h1M611 316.5h1M612.5 314v2M613 313.5h1M614 312.5h1M615 311.5h1M616.5 309v2M617 308.5h1M618 307.5h2M620 306.5h2M622 305.5h2M624 304.5h2M626 303.5h2M628 302.5h3M631 301.5h2M633 300.5h6M639 299.5h5M644 300.5h2M646 301.5h2M648 302.5h2M650 303.5h2M652 304.5h3M655 305.5h2M657 306.5h14M671 305.5h8M679 306.5h8M687 307.5h8M695 306.5h5M700 305.5h3M703 304.5h2M705 303.5h6M711 302.5h6M717 301.5h4M721 300.5h6M727 299.5h8M735 300.5h8M743 299.5h6M749 298.5h4M753 297.5h6M759 296.5h12M771 297.5h1M772 298.5h1M773 299.5h2M775 300.5h1M776 301.5h1M777 302.5h1M778 303.5h1M779 304.5h1M780 305.5h1M781 306.5h1M782 307.5h1M783 308.5h1M784 309.5h1M785 310.5h1M786 311.5h1M787 312.5h1M788 313.5h1M789 314.5h1M790 315.5h1M791 316.5h1M792 317.5h1M793 318.5h1M794 319.5h1M795 320.5h1M796 321.5h1M797 322.5h1M798 323.5h1M799 324.5h1M800 325.5h1M801 326.5h1M802 327.5h1M803 328.5h1M804 329.5h1M805 330.5h2M807 331.5h1M808 332.5h1M809 333.5h1M810 334.5h1M811 335.5h1M812 336.5h1M813 337.5h2M815 338.5h1M816 339.5h1M817 340.5h1M818 341.5h1M819 342.5h2M821 343.5h1M822 344.5h1M823 345.5h2M825 346.5h1M826 347.5h2M828 348.5h2M830 349.5h2M832 350.5h2M834 351.5h2M836 352.5h3M839 353.5h2M841 354.5h11M852 353.5h3M855 352.5h2M857 351.5h12M869 352.5h4M873 353.5h4M877 352.5h4M881 351.5h4M885 350.5h4M889 349.5h3M892 348.5h2M894 347.5h2M896 346.5h2M898 345.5h5M903 344.5h30M933 345.5h4M937 346.5h6M943 347.5h6M949 348.5h4M953 349.5h6M959 348.5h8M967 347.5h8M975 346.5h8M983 347.5h5M988 348.5h3M991 349.5h2M993 350.5h4M997 349.5h4M1001 348.5h4M1005 347.5h4M1009 346.5h6M1015 345.5h5M1020 344.5h2M1022 343.5h2M1024 342.5h2M1026 341.5h1M1027.5 339v2M1028 338.5h1M1029.5 336v2M1030 335.5h1M1031.5 333v2M1032 332.5h1M1033.5 330v2M1034 329.5h1M1035.5 327v2M1036.5 325v2M1037 324.5h1M1038.5 322v2M1039 321.5h1M1040.5 319v2M1041.5 317v2M1042.5 314v3M1043.5 310v4M1044.5 305v5M1045.5 300v5M1046.5 296v4M1047.5 291v5M1048.5 286v5M1049.5 282v4M1050.5 278v4M1051.5 275v3M1052.5 273v2M1053.5 270v3M1054.5 267v3M1055.5 264v3M1056.5 262v2M1057.5 259v3M1058.5 256v3M1059.5 252v4M1060.5 249v3M1061.5 246v3M1062.5 242v4M1063.5 239v3M1064.5 236v3M1065.5 232v4M1066.5 229v3M1067.5 225v4M1068.5 221v4M1069.5 218v3M1070.5 214v4M1071.5 211v3M1072.5 207v4M1073.5 203v4M1074.5 200v3M1075.5 197v3M1076.5 195v2M1077.5 192v3M1078.5 189v3M1079.5 186v3M1080.5 184v2M1081.5 181v3M1082.5 178v3M1083.5 176v2M1084.5 174v2M1085.5 172v2M1086.5 170v2M1087.5 168v2M1088.5 166v2M1089.5 164v2M1090 163.5h1M1091 162.5h2M1093 161.5h1M1094 160.5h1M1095 159.5h2M1097 158.5h1M1098 157.5h1M1099.5 158v2M1100 160.5h1M1101.5 161v2M1102 163.5h1M1103.5 164v2M1104 166.5h1M1105.5 167v2M1106 169.5h9M1115 170.5h2M1117 171.5h1M1118 172.5h1M1119 173.5h2M1121 174.5h1M1122 175.5h5M1127 176.5h5M1132 177.5h2M1134 178.5h2M1136 179.5h2M1138 180.5h2M1140 181.5h2M1142 182.5h2M1144 183.5h2M1146 184.5h1M1147 183.5h1M1148.5 181v2M1149 180.5h1M1150 179.5h1M1151 178.5h1M1152.5 176v2M1153 175.5h1M1154 174.5h1M1155.5 172v2M1156.5 170v2M1157 169.5h1M1158.5 167v2M1159 166.5h1M1160.5 164v2M1161.5 162v2M1162.5 160v2M1163.5 158v2M1164.5 156v2M1165.5 154v2M1166.5 152v2M1167.5 150v2M1168.5 148v2M1169.5 146v2M1170.5 144v2M1171.5 142v2M1172.5 140v2M1173.5 138v2M1174.5 136v2M1175.5 134v2M1176.5 132v2M1177.5 130v2M1178.5 128v2M1179.5 126v2M1180 125.5h1M1181.5 123v2M1182 122.5h1M1183.5 120v2M1184 119.5h1M1185.5 117v2M1186 116.5h1M1187 115.5h1M1188.5 113v2M1189 112.5h1M1190 111.5h1M1191 110.5h1M1192.5 108v2M1193 107.5h1M1194 106.5h1M1195.5 104v2M1196.5 102v2M1197 101.5h1M1198.5 99v2M1199 98.5h1M1200.5 96v2M1201.5 94v2M1202 93.5h1M1203.5 91v2M1204.5 89v2M1205.5 87v2M1206 86.5h1M1207.5 84v2M1208.5 82v2M1209.5 80v2M1210 79.5h2M1212 78.5h2M1214 77.5h2M1216 76.5h2M1218 75.5h3M1221 76.5h4M1225 77.5h3M1228 78.5h2M1230 79.5h2M1232 80.5h2M1234 81.5h1M1235 82.5h1M1236 83.5h1M1237 84.5h1M1238 85.5h1M1239 86.5h1M1240 87.5h1M1241 88.5h1M1242 89.5h2M1244 90.5h2M1246 91.5h2M1248 92.5h2M1250 93.5h1M1251 94.5h1M1252 95.5h1M1253 96.5h2M1255 97.5h1M1256 98.5h1M1257 99.5h1M1258 100.5h1M1259.5 101v2M1260.5 103v2M1261.5 105v2M1262.5 107v2M1263.5 109v2M1264.5 111v2M1265.5 113v2M1266 115.5h1M1267.5 116v2M1268.5 118v2M1269.5 120v2M1270.5 122v2M1271.5 124v2M1272.5 126v2M1273.5 128v2M1274 130.5h1M1275.5 131v2M1276.5 133v2M1277.5 135v2M1278 137.5h1M1279.5 138v2M1280.5 140v2M1281.5 142v2M1282 144.5h1M1283 145.5h1M1284.5 146v2M1285 148.5h1M1286 149.5h1M1287 150.5h1M1288.5 151v2M1289 153.5h1" fill="none" stroke="#0000cd" stroke-width="1"/>
<path d="M2 654.5h3M8 655.5h3M14 655.5h3M20 655.5h3M26 655.5h3M32 654.5h3M38 654.5h1M39 653.5h2M44 653.5h3M50 652.5h3M56 651.5h3M62 651.5h1M63 650.5h2M68 649.5h3M74 647.5h3M80 646.5h1M81 645.5h2M86 644.5h1M87 643.5h2M92 642.5h1M93 641.5h2M98 640.5h3M104 639.5h3M110 639.5h1M111 638.5h2M116 638.5h3M122 638.5h3M128 639.5h3M134 639.5h1M135 640.5h2M140 640.5h3M146 640.5h3M152 641.5h1M153 642.5h2M158 642.5h1M159 643.5h2M164 644.5h2M166 645.5h1M170 646.5h3M176 647.5h1M177 648.5h2M182 648.5h1M183 649.5h2M188 649.5h3M194 649.5h3M200 650.5h3M206 649.5h3M212 648.5h3M218 648.5h1M219 647.5h2M224 647.5h3M230 647.5h3M236 646.5h1M237 645.5h2M242 644.5h3M248 643.5h1M249 642.5h2M254 642.5h1M255 641.5h2M260 641.5h1M261 640.5h2M266 639.5h3M272 638.5h3M278 638.5h3M284 638.5h3M290 638.5h3M296 638.5h3M302 638.5h1M303 637.5h2M308 637.5h1M309 636.5h2M314 635.5h3M320 635.5h3M326 635.5h1M327 634.5h2M332 634.5h3M338 633.5h3M344 633.5h3M350 632.5h3M356 631.5h3M362 630.5h3M368 629.5h3M374 629.5h3M380 629.5h3M386 628.5h3M392 627.5h3M398 627.5h3M404 627.5h3M410 627.5h3M416 627.5h3M422 627.5h3M428 628.5h3M434 629.5h3M440 629.5h3M446 629.5h3M452 629.5h3M458 629.5h3M464 629.5h3M470 629.5h3M476 629.5h2M478 628.5h1M482 627.5h3M488 627.5h3M494 627.5h1M495 626.5h2M500 626.5h1M501 625.5h2M506 625.5h3M512 624.5h3M518 624.5h1M519 623.5h2M524 623.5h1M525 622.5h2M530 621.5h3M536 620.5h3M542 618.5h3M548 617.5h1M549 616.5h2M554 615.5h2M556 614.5h1M560 613.5h3M566 612.5h1M567 611.5h2M572 609.5h2M574 608.5h1M578 606.5h1M579 605.5h2M584 602.5h2M586 601.5h1M590 600.5h1M591 599.5h2M596 597.5h1M597 596.5h1M598 595.5h1M602 592.5h1M603 591.5h2M608 588.5h2M610 587.5h1M614 585.5h2M616 584.5h1M620 582.5h2M622 581.5h1M626 579.5h2M628 578.5h1M632 576.5h2M634 575.5h1M638 575.5h1M639 574.5h2M644 574.5h1M645 573.5h2M650 572.5h3M656 572.5h3M662 572.5h3M668 572.5h3M674 573.5h3M680 574.5h1M681 575.5h2M686 576.5h3M692 577.5h1M693 578.5h2M698 578.5h3M704 579.5h1M705 580.5h2M710 580.5h1M711 581.5h2M716 582.5h2M718 583.5h1M722 583.5h1M723 584.5h2M728 585.5h2M730 586.5h1M734 586.5h1M735 587.5h2M740 587.5h3M746 588.5h3M752 589.5h1M753 590.5h1M754 591.5h1M758 591.5h1M759 592.5h2M764 593.5h2M766 594.5h1M770 594.5h1M771 595.5h2M776 595.5h3M782 596.5h1M783 597.5h1M784 598.5h1M788 599.5h3M794 600.5h1M795 601.5h2M800 603.5h2M802 604.5h1M806 605.5h1M807 606.5h2M812 607.5h1M813 608.5h2M818 609.5h1M819 610.5h2M824 612.5h2M826 613.5h1M830 614.5h1M831 615.5h2M836 616.5h1M837 617.5h2M842 619.5h2M844 620.5h1M848 621.5h1M849 622.5h2M854 623.5h3M860 624.5h1M861 625.5h2M866 626.5h3M872 627.5h3M878 627.5h3M884 627.5h3M890 628.5h3M896 628.5h3M902 628.5h3M908 628.5h3M914 628.5h3M920 628.5h3M926 628.5h3M932 628.5h3M938 628.5h3M944 628.5h3M950 627.5h3M956 627.5h3M962 628.5h3M968 628.5h3M974 628.5h1M975 627.5h2M980 627.5h3M986 627.5h3M992 627.5h3M998 627.5h3M1004 627.5h3M1010 627.5h3M1016 627.5h3M1022 626.5h3M1028 626.5h3M1034 625.5h3M1040 624.5h1M1041 623.5h2M1046 622.5h1M1047 621.5h2M1052 619.5h2M1054 618.5h1M1058 616.5h2M1060 615.5h1M1064 612.5h2M1066 611.5h1M1070 608.5h1M1071 607.5h1M1072 606.5h1M1076 603.5h2M1078 602.5h1M1082 599.5h1M1083 598.5h1M1084 597.5h1M1088 594.5h2M1090 593.5h1M1094 590.5h1M1095 589.5h1M1096 588.5h1M1100 586.5h2M1102 585.5h1M1106 583.5h2M1108 582.5h1M1112 579.5h2M1114 578.5h1M1118 577.5h3M1124 577.5h3M1130 576.5h3M1136 576.5h3M1142 576.5h3M1148 576.5h3M1154 576.5h1M1155 577.5h2M1160 578.5h2M1162 579.5h1M1166 579.5h3M1172 579.5h3M1178 578.5h3M1184 577.5h3M1190 577.5h3M1196 576.5h3M1202 575.5h3M1208 574.5h3M1214 573.5h3M1220 572.5h3M1226 571.5h3M1232 571.5h3M1238 571.5h1M1239 572.5h2M1244 573.5h3M1250 574.5h3M1256 575.5h1M1257 576.5h2M1262 577.5h1M1263 578.5h2M1268 580.5h2M1270 581.5h1M1274 583.5h2M1276 584.5h1M1280 587.5h2M1282 588.5h1M1286 590.5h1M1287 591.5h2" fill="none" stroke="#ff0000" stroke-width="1"/>
<path d="M2.5 760v2M3.5 758v2M4.5 756v2M5.5 753v3M6.5 751v2M7.5 748v3M8.5 746v2M9.5 744v2M10.5 742v2M11 741.5h2M13 740.5h2M15 739.5h1M16 738.5h2M18 737.5h2M20 738.5h2M22 739.5h2M24 740.5h2M26 741.5h2M28 740.5h2M30 739.5h2M32 738.5h2M34 737.5h2M36 736.5h3M39 735.5h2M41 734.5h11M52 733.5h2M54 732.5h2M56 731.5h2M58 730.5h1M59 731.5h1M60 732.5h1M61 733.5h1M62 734.5h1M63 735.5h1M64 736.5h1M65 737.5h1M66 738.5h2M68 737.5h2M70 736.5h2M72 735.5h2M74 734.5h5M79 735.5h6M85 736.5h4M89 737.5h10M99 738.5h1M100 739.5h1M101 740.5h1M102 741.5h1M103 742.5h1M104 743.5h1M105 744.5h1M106 745.5h1M107 746.5h2M109 747.5h1M110 748.5h1M111 749.5h2M113 750.5h1M114 751.5h1M115 750.5h2M117 749.5h2M119 748.5h1M120 747.5h2M122 746.5h1M123 747.5h2M125 748.5h2M127 749.5h1M128 750.5h2M130 751.5h2M132 752.5h2M134 753.5h2M136 754.5h2M138 755.5h11M149 756.5h4M153 757.5h2M155 756.5h1M156 755.5h1M157 754.5h1M158 753.5h1M159 752.5h1M160 751.5h1M161 750.5h1M162 749.5h1M163 748.5h1M164 747.5h1M165 746.5h1M166 745.5h1M167 744.5h1M168 743.5h1M169 742.5h1M170 741.5h2M172 742.5h3M175 743.5h2M177 744.5h6M183 745.5h5M188 744.5h2M190 743.5h2M192 742.5h2M194 741.5h1M195 740.5h1M196 739.5h1M197 738.5h2M199 737.5h1M200 736.5h1M201 735.5h1M202 734.5h5M207 735.5h12M219 736.5h1M220 737.5h1M221 738.5h2M223 739.5h1M224 740.5h1M225 741.5h1M226 742.5h3M229 743.5h4M233 744.5h2M235 743.5h1M236 742.5h1M237 741.5h1M238 740.5h1M239 739.5h1M240 738.5h1M241 737.5h1M242 736.5h2M244 737.5h3M247 738.5h2M249 739.5h3M252 738.5h3M255 737.5h2M257 736.5h6M263 737.5h4M267.5 738v2M268 740.5h1M269 741.5h1M270.5 742v2M271 744.5h1M272 745.5h1M273.5 746v2M274 748.5h1M275 747.5h1M276.5 745v2M277 744.5h1M278 743.5h1M279 742.5h1M280.5 740v2M281 739.5h1M282 738.5h1M283 737.5h2M285 736.5h1M286 735.5h1M287 734.5h2M289 733.5h1M290 732.5h2M292 733.5h2M294 734.5h2M296 735.5h2M298 736.5h2M300 735.5h3M303 734.5h2M305 733.5h2M307 732.5h2M309 731.5h2M311 730.5h1M312 729.5h2M314 728.5h9M323 729.5h2M325 730.5h1M326 731.5h1M327 732.5h2M329 733.5h1M330 734.5h11M341 733.5h4M345 732.5h2M347 733.5h2M349 734.5h2M351 735.5h1M352 736.5h2M354 737.5h5M359 736.5h5M364 737.5h3M367 738.5h2M369 739.5h2M371 738.5h2M373 737.5h2M375 736.5h1M376 735.5h2M378 734.5h18M396 733.5h2M398 732.5h2M400 731.5h2M402 730.5h1M403 731.5h1M404 732.5h1M405 733.5h1M406 734.5h1M407 735.5h1M408 736.5h1M409 737.5h1M410 738.5h3M413 739.5h4M417 740.5h2M419 739.5h2M421 738.5h2M423 737.5h1M424 736.5h2M426 735.5h1M427.5 736v2M428.5 738v2M429.5 740v2M430 742.5h1M431.5 743v2M432.5 745v2M433.5 747v2M434 749.5h1M435.5 747v2M436 746.5h1M437.5 744v2M438 743.5h1M439.5 741v2M440 740.5h1M441.5 738v2M442 737.5h2M444 736.5h2M446 735.5h2M448 734.5h2M450 733.5h2M452 732.5h2M454 731.5h2M456 730.5h2M458 729.5h2M460 728.5h2M462 727.5h2M464 726.5h2M466 725.5h2M468 724.5h2M470 723.5h2M472 722.5h2M474 721.5h2M476 722.5h2M478 723.5h2M480 724.5h2M482 725.5h18M500 726.5h2M502 727.5h2M504 728.5h2M506 729.5h1M507 728.5h1M508 727.5h1M509 726.5h2M511 725.5h1M512 724.5h1M513 723.5h1M514 722.5h2M516 723.5h2M518 724.5h2M520 725.5h2M522 726.5h1M523.5 724v2M524.5 722v2M525.5 720v2M526.5 718v2M527.5 716v2M528.5 714v2M529.5 712v2M530 711.5h3M533 710.5h4M537 709.5h4M541 708.5h4M545 707.5h2M547 706.5h1M548 705.5h1M549 704.5h2M551 703.5h1M552 702.5h1M553 701.5h1M554 700.5h5M559 699.5h4M563 698.5h1M564 697.5h1M565 696.5h1M566.5 694v2M567 693.5h1M568 692.5h1M569 691.5h1M570 690.5h1M571 691.5h2M573 692.5h2M575 693.5h1M576 694.5h2M578 695.5h10M588 694.5h3M591 693.5h2M593 692.5h6M599 691.5h4M603 692.5h2M605 693.5h2M607 694.5h1M608 695.5h2M610 696.5h2M612 697.5h3M615 698.5h2M617 699.5h4M621 698.5h4M625 697.5h3M628 698.5h2M630 699.5h2M632 700.5h2M634 701.5h1M635 702.5h1M636 703.5h1M637 704.5h2M639 705.5h1M640 706.5h1M641 707.5h1M642 708.5h3M645 709.5h4M649 710.5h4M653 709.5h4M657 708.5h4M661 707.5h4M665 706.5h4M669 705.5h4M673 704.5h4M677 705.5h4M681 706.5h2M683 707.5h1M684 708.5h1M685 709.5h1M686 710.5h1M687 711.5h1M688 712.5h1M689 713.5h1M690 714.5h5M695 713.5h6M701 712.5h4M705 711.5h11M716 710.5h2M718 709.5h2M720 708.5h2M722 707.5h9M731.5 708v2M732 710.5h1M733 711.5h1M734.5 712v2M735 714.5h1M736 715.5h1M737.5 716v2M738 718.5h5M743 717.5h8M751 716.5h8M759 715.5h8M767 716.5h4M770 717.5h1M771.5 718v2M772.5 720v3M773.5 723v2M774.5 725v3M775.5 728v2M776.5 730v3M777.5 733v2M778.5 735v2M779 736.5h4M783 737.5h4M787.5 738v2M788 740.5h1M789.5 741v2M790 743.5h1M791.5 744v2M792 746.5h1M793.5 747v2M794 749.5h2M796 748.5h3M799 747.5h2M801 746.5h2M803 745.5h2M805 744.5h1M806 743.5h1M807 742.5h2M809 741.5h1M810 740.5h2M812 739.5h3M815 738.5h2M817 737.5h10M827 738.5h2M829 739.5h2M831 740.5h1M832 741.5h2M834 742.5h5M839 743.5h4M843 744.5h2M845 745.5h2M847 746.5h1M848 747.5h2M850 748.5h1M851.5 746v2M852.5 744v2M853 743.5h1M854.5 741v2M855 740.5h1M856.5 738v2M857.5 736v2M858 735.5h10M868 736.5h2M870 737.5h2M872 738.5h2M874 739.5h1M875 738.5h1M876.5 736v2M877 735.5h1M878 734.5h1M879 733.5h1M880.5 731v2M881 730.5h1M882 729.5h2M884 730.5h3M887 731.5h2M889 732.5h4M893 731.5h4M897 730.5h2M899 731.5h1M900 732.5h1M901 733.5h1M902.5 734v2M903 736.5h1M904 737.5h1M905 738.5h1M906 739.5h3M909 738.5h4M913 737.5h4M917 736.5h4M921 735.5h3M924 736.5h3M927 737.5h2M929 738.5h3M932 737.5h2M934 736.5h2M936 735.5h2M938 734.5h3M941 735.5h4M945 736.5h4M949 737.5h4M953 738.5h2M955 737.5h2M957 736.5h2M959 735.5h1M960 734.5h2M962 733.5h13M975 732.5h4M979 733.5h2M981 734.5h1M982 735.5h1M983 736.5h2M985 737.5h1M986 738.5h5M991 739.5h4M995 738.5h2M997 737.5h2M999 736.5h1M1000 735.5h2M1002 734.5h1M1003 733.5h1M1004 732.5h1M1005 731.5h1M1006 730.5h1M1007 729.5h1M1008 728.5h1M1009 727.5h1M1010 726.5h3M1013 727.5h4M1017 728.5h2M1019 727.5h1M1020.5 725v2M1021 724.5h1M1022 723.5h1M1023 722.5h1M1024.5 720v2M1025 719.5h1M1026.5 717v2M1027.5 715v2M1028.5 713v2M1029.5 711v2M1030.5 708v3M1031.5 706v2M1032.5 704v2M1033.5 702v2M1034.5 700v2M1035 700.5h4M1039 699.5h4M1042 698.5h1M1043.5 696v2M1044.5 694v2M1045.5 692v2M1046.5 690v2M1047.5 688v2M1048.5 686v2M1049.5 684v2M1050.5 683v2M1051.5 685v3M1052.5 688v3M1053.5 691v3M1054.5 694v4M1055.5 698v3M1056.5 701v3M1057.5 704v3M1058.5 707v2M1059 708.5h1M1060 707.5h2M1062 706.5h2M1064 705.5h2M1066 704.5h5M1071 705.5h8M1079 704.5h8M1087 703.5h4M1090 704.5h1M1091.5 705v2M1092.5 707v3M1093.5 710v3M1094.5 713v2M1095.5 715v3M1096.5 718v3M1097.5 721v2M1098.5 723v2M1099 723.5h2M1101 722.5h2M1103 721.5h1M1104 720.5h2M1106 719.5h5M1111 720.5h13M1124 719.5h2M1126 718.5h2M1128 717.5h2M1130 716.5h13M1143 717.5h5M1148 716.5h3M1151 715.5h2M1153 714.5h2M1155 713.5h1M1156 712.5h1M1157 711.5h2M1159 710.5h1M1160 709.5h1M1161 708.5h1M1162 707.5h2M1164 706.5h2M1166 705.5h2M1168 704.5h2M1170 703.5h5M1175 704.5h12M1187 705.5h1M1188 706.5h1M1189 707.5h1M1190 708.5h1M1191 709.5h1M1192 710.5h1M1193 711.5h1M1194 712.5h2M1196 711.5h2M1198 710.5h2M1200 709.5h2M1202 708.5h2M1204 707.5h3M1207 706.5h2M1209 705.5h2M1211 706.5h2M1213 707.5h2M1215 708.5h1M1216 709.5h2M1218 710.5h1M1219 711.5h1M1220 712.5h1M1221 713.5h1M1222 714.5h1M1223 715.5h1M1224 716.5h1M1225 717.5h1M1226 718.5h3M1229 719.5h4M1233 720.5h2M1235 721.5h1M1236.5 722v2M1237 724.5h1M1238 725.5h1M1239 726.5h1M1240.5 727v2M1241 729.5h1M1242 730.5h2M1244 729.5h2M1246 728.5h2M1248 727.5h2M1250 726.5h3M1253 727.5h4M1257 728.5h2M1259 729.5h2M1261 730.5h2M1263 731.5h1M1264 732.5h2M1266 733.5h1M1267 734.5h2M1269 735.5h2M1271 736.5h1M1272 737.5h2M1274 738.5h1M1275 739.5h2M1277 740.5h2M1279 741.5h1M1280 742.5h2M1282 743.5h2M1284 742.5h3M1287 741.5h2M1289 740.5h1" fill="none" stroke="#1e90ff" stroke-width="1"/>
<rect x="2" y="136" width="1415" height="3" fill="#ff0000"/>
<rect x="1" y="134" width="7" height="7" fill="#ff0000"/>
<rect x="4" y="137" width="1" height="1" fill="#fff"/>
<rect x="1411" y="134" width="7" height="7" fill="#ff0000"/>
<rect x="1414" y="137" width="1" height="1" fill="#fff"/>
<rect x="2" y="231" width="1415" height="3" fill="#00ff00"/>
<rect x="1" y="229" width="7" height="7" fill="#00ff00"/>
<rect x="4" y="232" width="1" height="1" fill="#fff"/>
<rect x="1411" y="229" width="7" height="7" fill="#00ff00"/>
<rect x="1414" y="232" width="1" height="1" fill="#fff"/>
<rect x="2" y="326" width="1415" height="3" fill="#0000ff"/>
<rect x="1" y="324" width="7" height="7" fill="#0000ff"/>
<rect x="4" y="327" width="1" height="1" fill="#fff"/>
<rect x="1411" y="324" width="7" height="7" fill="#0000ff"/>
<rect x="1414" y="327" width="1" height="1" fill="#fff"/>
<rect x="2" y="402" width="1415" height="3" fill="#0000ff"/>
<rect x="2" y="461" width="1415" height="3" fill="#0000ff"/>
<rect x="1418" y="29" width="2" height="1" fill="#000"/>
<rect x="1418" y="62" width="2" height="1" fill="#000"/>
<rect x="1418" y="95" width="2" height="1" fill="#000"/>
<rect x="1418" y="128" width="2" height="1" fill="#000"/>
<rect x="1418" y="161" width="2" height="1" fill="#000"/>
<rect x="1418" y="194" width="2" height="1" fill="#000"/>
<rect x="1418" y="227" width="2" height="1" fill="#000"/>
<rect x="1418" y="260" width="2" height="1" fill="#000"/>
<rect x="1418" y="293" width="2" height="1" fill="#000"/>
<rect x="1418" y="326" width="2" height="1" fill="#000"/>
<rect x="1418" y="359" width="2" height="1" fill="#000"/>
<rect x="1418" y="392" width="2" height="1" fill="#000"/>
<rect x="1418" y="425" width="2" height="1" fill="#000"/>
<rect x="1418" y="458" width="2" height="1" fill="#000"/>
<rect x="1418" y="491" width="2" height="1" fill="#000"/>
<rect x="1418" y="524" width="2" height="1" fill="#000"/>
<rect x="1418" y="557" width="2" height="1" fill="#000"/>
<rect x="1418" y="564" width="2" height="1" fill="#000"/>
<rect x="1418" y="624" width="2" height="1" fill="#000"/>
<rect x="1418" y="664" width="2" height="1" fill="#000"/>
<rect x="1418" y="669" width="2" height="1" fill="#000"/>
<rect x="1418" y="796" width="2" height="1" fill="#000"/>
<rect x="1" y="561" width="1" height="1" fill="#fff"/>
<rect x="1417" y="561" width="1" height="1" fill="#fff"/>
<rect x="1" y="666" width="1" height="1" fill="#fff"/>
<rect x="1417" y="666" width="1" height="1" fill="#fff"/>
<rect x="2" y="798" width="1" height="3" fill="#000"/>
<rect x="66" y="798" width="1" height="3" fill="#000"/>
<rect x="130" y="798" width="1" height="3" fill="#000"/>
<rect x="194" y="798" width="1" height="3" fill="#000"/>
<rect x="258" y="798" width="1" height="3" fill="#000"/>
<rect x="322" y="798" width="1" height="3" fill="#000"/>
<rect x="386" y="798" width="1" height="3" fill="#000"/>
<rect x="450" y="798" width="1" height="3" fill="#000"/>
<rect x="514" y="798" width="1" height="3" fill="#000"/>
<rect x="578" y="798" width="1" height="3" fill="#000"/>
<rect x="642" y="798" width="1" height="3" fill="#000"/>
<rect x="706" y="798" width="1" height="3" fill="#000"/>
<rect x="770" y="798" width="1" height="3" fill="#000"/>
<rect x="834" y="798" width="1" height="3" fill="#000"/>
<rect x="898" y="798" width="1" height="3" fill="#000"/>
<rect x="962" y="798" width="1" height="3" fill="#000"/>
<rect x="1026" y="798" width="1" height="3" fill="#000"/>
<rect x="1090" y="798" width="1" height="3" fill="#000"/>
<rect x="1154" y="798" width="1" height="3" fill="#000"/>
<rect x="1218" y="798" width="1" height="3" fill="#000"/>
<rect x="1282" y="798" width="1" height="3" fill="#000"/>
</g>
<g>
<g class="gp">
<text x="1423" y="32.9" font-size="9.9" fill="#000" text-anchor="start" font-weight="normal" textLength="32.5" lengthAdjust="spacingAndGlyphs" stroke="#000" stroke-width="0.08">7.21390</text>
<text x="1423" y="65.9" font-size="9.9" fill="#000" text-anchor="start" font-weight="normal" textLength="32.5" lengthAdjust="spacingAndGlyphs" stroke="#000" stroke-width="0.08">7.17990</text>
<text x="1423" y="98.9" font-size="9.9" fill="#000" text-anchor="start" font-weight="normal" textLength="32.5" lengthAdjust="spacingAndGlyphs" stroke="#000" stroke-width="0.08">7.14490</text>
<text x="1423" y="131.9" font-size="9.9" fill="#000" text-anchor="start" font-weight="normal" textLength="32.5" lengthAdjust="spacingAndGlyphs" stroke="#000" stroke-width="0.08">7.10990</text>
<text x="1423" y="164.9" font-size="9.9" fill="#000" text-anchor="start" font-weight="normal" textLength="32.5" lengthAdjust="spacingAndGlyphs" stroke="#000" stroke-width="0.08">7.07490</text>
<text x="1423" y="197.9" font-size="9.9" fill="#000" text-anchor="start" font-weight="normal" textLength="32.5" lengthAdjust="spacingAndGlyphs" stroke="#000" stroke-width="0.08">7.04090</text>
<text x="1423" y="230.9" font-size="9.9" fill="#000" text-anchor="start" font-weight="normal" textLength="32.5" lengthAdjust="spacingAndGlyphs" stroke="#000" stroke-width="0.08">7.00590</text>
<text x="1423" y="263.9" font-size="9.9" fill="#000" text-anchor="start" font-weight="normal" textLength="32.5" lengthAdjust="spacingAndGlyphs" stroke="#000" stroke-width="0.08">6.97090</text>
<text x="1423" y="296.9" font-size="9.9" fill="#000" text-anchor="start" font-weight="normal" textLength="32.5" lengthAdjust="spacingAndGlyphs" stroke="#000" stroke-width="0.08">6.93590</text>
<text x="1423" y="329.9" font-size="9.9" fill="#000" text-anchor="start" font-weight="normal" textLength="32.5" lengthAdjust="spacingAndGlyphs" stroke="#000" stroke-width="0.08">6.90190</text>
<text x="1423" y="362.9" font-size="9.9" fill="#000" text-anchor="start" font-weight="normal" textLength="32.5" lengthAdjust="spacingAndGlyphs" stroke="#000" stroke-width="0.08">6.86690</text>
<text x="1423" y="395.9" font-size="9.9" fill="#000" text-anchor="start" font-weight="normal" textLength="32.5" lengthAdjust="spacingAndGlyphs" stroke="#000" stroke-width="0.08">6.83190</text>
<text x="1423" y="428.9" font-size="9.9" fill="#000" text-anchor="start" font-weight="normal" textLength="32.5" lengthAdjust="spacingAndGlyphs" stroke="#000" stroke-width="0.08">6.79790</text>
<text x="1423" y="461.9" font-size="9.9" fill="#000" text-anchor="start" font-weight="normal" textLength="32.5" lengthAdjust="spacingAndGlyphs" stroke="#000" stroke-width="0.08">6.76290</text>
<text x="1423" y="494.9" font-size="9.9" fill="#000" text-anchor="start" font-weight="normal" textLength="32.5" lengthAdjust="spacingAndGlyphs" stroke="#000" stroke-width="0.08">6.72790</text>
<text x="1423" y="527.9" font-size="9.9" fill="#000" text-anchor="start" font-weight="normal" textLength="32.5" lengthAdjust="spacingAndGlyphs" stroke="#000" stroke-width="0.08">6.69290</text>
<text x="1423" y="560.9" font-size="9.9" fill="#000" text-anchor="start" font-weight="normal" textLength="32.5" lengthAdjust="spacingAndGlyphs" stroke="#000" stroke-width="0.08">6.65890</text>
<g shape-rendering="crispEdges">
<rect x="1419" y="131" width="40" height="11" fill="#ff0000"/>
<rect x="1419" y="226" width="40" height="11" fill="#00ff00"/>
<rect x="1419" y="321" width="40" height="11" fill="#0000ff"/>
<rect x="1419" y="397" width="40" height="11" fill="#0000ff"/>
<rect x="1419" y="456" width="40" height="11" fill="#0000ff"/>
<rect x="1419" y="179" width="40" height="11" fill="#000"/>
</g>
<text x="1423" y="139.9" font-size="9.9" fill="#fff" text-anchor="start" font-weight="normal" textLength="32.5" lengthAdjust="spacingAndGlyphs" stroke="#fff" stroke-width="0.08">7.10029</text>
<text x="1423" y="234.9" font-size="9.9" fill="#fff" text-anchor="start" font-weight="normal" textLength="32.5" lengthAdjust="spacingAndGlyphs" stroke="#fff" stroke-width="0.08">7.00048</text>
<text x="1423" y="329.9" font-size="9.9" fill="#fff" text-anchor="start" font-weight="normal" textLength="32.5" lengthAdjust="spacingAndGlyphs" stroke="#fff" stroke-width="0.08">6.90100</text>
<text x="1423" y="405.9" font-size="9.9" fill="#fff" text-anchor="start" font-weight="normal" textLength="32.5" lengthAdjust="spacingAndGlyphs" stroke="#fff" stroke-width="0.08">6.82103</text>
<text x="1423" y="464.9" font-size="9.9" fill="#fff" text-anchor="start" font-weight="normal" textLength="32.5" lengthAdjust="spacingAndGlyphs" stroke="#fff" stroke-width="0.08">6.75804</text>
<text x="1423" y="188" font-size="9.9" fill="#fff" text-anchor="start" font-weight="normal" textLength="32.5" lengthAdjust="spacingAndGlyphs" stroke="#fff" stroke-width="0.08">7.05077</text>
<text x="1421" y="572.8" font-size="9.9" fill="#000" text-anchor="start" font-weight="normal" textLength="37.5" lengthAdjust="spacingAndGlyphs" stroke="#000" stroke-width="0.08">0.060674</text>
<text transform="translate(1421,627.8) scale(0.92,1)" font-size="9.9" fill="#000" text-anchor="start" font-weight="normal" stroke="#000" stroke-width="0.08">0.00</text>
<text transform="translate(1421,661.8) scale(0.92,1)" font-size="9.9" fill="#000" text-anchor="start" font-weight="normal" stroke="#000" stroke-width="0.08">-0.040152</text>
<text transform="translate(1421,677.5) scale(0.92,1)" font-size="9.9" fill="#000" text-anchor="start" font-weight="normal" stroke="#000" stroke-width="0.08">100</text>
<text transform="translate(1421,710.5) scale(0.92,1)" font-size="9.9" fill="#000" text-anchor="start" font-weight="normal" stroke="#000" stroke-width="0.08">70</text>
<text transform="translate(1421,761.5) scale(0.92,1)" font-size="9.9" fill="#000" text-anchor="start" font-weight="normal" stroke="#000" stroke-width="0.08">30</text>
<text transform="translate(1421,793.6) scale(0.92,1)" font-size="9.9" fill="#000" text-anchor="start" font-weight="normal" stroke="#000" stroke-width="0.08">0</text>
<text x="17.3" y="33" font-size="9.9" fill="#000" text-anchor="start" font-weight="normal" textLength="68" lengthAdjust="spacingAndGlyphs" stroke="#000" stroke-width="0.08">USDCNH-,Daily</text>
<text x="92.2" y="33" font-size="9.9" fill="#000" text-anchor="start" font-weight="normal" textLength="140.3" lengthAdjust="spacingAndGlyphs" stroke="#000" stroke-width="0.08">7.04890 7.05328 7.04272 7.05077</text>
<polygon points="5,32.3 12.2,32.3 8.6,28" fill="#000"/>
<text x="6" y="574.8" font-size="9.9" fill="#000" text-anchor="start" font-weight="normal" textLength="148" lengthAdjust="spacingAndGlyphs" stroke="#000" stroke-width="0.08">MACD(12,26,9) 0.008480 0.031360</text>
<text x="6" y="680.4" font-size="9.9" fill="#000" text-anchor="start" font-weight="normal" textLength="67.5" lengthAdjust="spacingAndGlyphs" stroke="#000" stroke-width="0.08">RSI(14) 43.8091</text>
<text x="1.3" y="809.9" font-size="9.9" fill="#000" text-anchor="start" font-weight="normal" textLength="50.4" lengthAdjust="spacingAndGlyphs" stroke="#000" stroke-width="0.08">31 Jan 2019</text>
<text x="65.3" y="809.9" font-size="9.9" fill="#000" text-anchor="start" font-weight="normal" textLength="51.65" lengthAdjust="spacingAndGlyphs" stroke="#000" stroke-width="0.08">12 Feb 2019</text>
<text x="129.3" y="809.9" font-size="9.9" fill="#000" text-anchor="start" font-weight="normal" textLength="51.65" lengthAdjust="spacingAndGlyphs" stroke="#000" stroke-width="0.08">22 Feb 2019</text>
<text x="193.3" y="809.9" font-size="9.9" fill="#000" text-anchor="start" font-weight="normal" textLength="46.9" lengthAdjust="spacingAndGlyphs" stroke="#000" stroke-width="0.08">6 Mar 2019</text>
<text x="257.3" y="809.9" font-size="9.9" fill="#000" text-anchor="start" font-weight="normal" textLength="51.65" lengthAdjust="spacingAndGlyphs" stroke="#000" stroke-width="0.08">18 Mar 2019</text>
<text x="321.3" y="809.9" font-size="9.9" fill="#000" text-anchor="start" font-weight="normal" textLength="51.65" lengthAdjust="spacingAndGlyphs" stroke="#000" stroke-width="0.08">28 Mar 2019</text>
<text x="385.3" y="809.9" font-size="9.9" fill="#000" text-anchor="start" font-weight="normal" textLength="45.4" lengthAdjust="spacingAndGlyphs" stroke="#000" stroke-width="0.08">9 Apr 2019</text>
<text x="449.3" y="809.9" font-size="9.9" fill="#000" text-anchor="start" font-weight="normal" textLength="51.15" lengthAdjust="spacingAndGlyphs" stroke="#000" stroke-width="0.08">22 Apr 2019</text>
<text x="513.3" y="809.9" font-size="9.9" fill="#000" text-anchor="start" font-weight="normal" textLength="49.9" lengthAdjust="spacingAndGlyphs" stroke="#000" stroke-width="0.08">2 May 2019</text>
<text x="577.3" y="809.9" font-size="9.9" fill="#000" text-anchor="start" font-weight="normal" textLength="54.15" lengthAdjust="spacingAndGlyphs" stroke="#000" stroke-width="0.08">14 May 2019</text>
<text x="641.3" y="809.9" font-size="9.9" fill="#000" text-anchor="start" font-weight="normal" textLength="54.65" lengthAdjust="spacingAndGlyphs" stroke="#000" stroke-width="0.08">24 May 2019</text>
<text x="705.3" y="809.9" font-size="9.9" fill="#000" text-anchor="start" font-weight="normal" textLength="44.15" lengthAdjust="spacingAndGlyphs" stroke="#000" stroke-width="0.08">5 Jun 2019</text>
<text x="769.3" y="809.9" font-size="9.9" fill="#000" text-anchor="start" font-weight="normal" textLength="49.15" lengthAdjust="spacingAndGlyphs" stroke="#000" stroke-width="0.08">17 Jun 2019</text>
<text x="833.3" y="809.9" font-size="9.9" fill="#000" text-anchor="start" font-weight="normal" textLength="49.65" lengthAdjust="spacingAndGlyphs" stroke="#000" stroke-width="0.08">27 Jun 2019</text>
<text x="897.3" y="809.9" font-size="9.9" fill="#000" text-anchor="start" font-weight="normal" textLength="41.65" lengthAdjust="spacingAndGlyphs" stroke="#000" stroke-width="0.08">9 Jul 2019</text>
<text x="961.3" y="809.9" font-size="9.9" fill="#000" text-anchor="start" font-weight="normal" textLength="46.65" lengthAdjust="spacingAndGlyphs" stroke="#000" stroke-width="0.08">19 Jul 2019</text>
<text x="1025.3" y="809.9" font-size="9.9" fill="#000" text-anchor="start" font-weight="normal" textLength="46.15" lengthAdjust="spacingAndGlyphs" stroke="#000" stroke-width="0.08">31 Jul 2019</text>
<text x="1089.3" y="809.9" font-size="9.9" fill="#000" text-anchor="start" font-weight="normal" textLength="52.4" lengthAdjust="spacingAndGlyphs" stroke="#000" stroke-width="0.08">12 Aug 2019</text>
<text x="1153.3" y="809.9" font-size="9.9" fill="#000" text-anchor="start" font-weight="normal" textLength="52.9" lengthAdjust="spacingAndGlyphs" stroke="#000" stroke-width="0.08">22 Aug 2019</text>
<text x="1217.3" y="809.9" font-size="9.9" fill="#000" text-anchor="start" font-weight="normal" textLength="46.15" lengthAdjust="spacingAndGlyphs" stroke="#000" stroke-width="0.08">3 Sep 2019</text>
<text x="1281.3" y="809.9" font-size="9.9" fill="#000" text-anchor="start" font-weight="normal" textLength="51.65" lengthAdjust="spacingAndGlyphs" stroke="#000" stroke-width="0.08">13 Sep 2019</text>
</g>
<text x="4.5" y="8.4" font-size="9" fill="#444" text-anchor="start" font-weight="normal" textLength="12.4" lengthAdjust="spacingAndGlyphs">H4</text>
<text x="33.7" y="8.4" font-size="9" fill="#444" text-anchor="start" font-weight="normal" textLength="11.3" lengthAdjust="spacingAndGlyphs">D1</text>
<text x="61.3" y="8.4" font-size="9" fill="#444" text-anchor="start" font-weight="normal" textLength="13.7" lengthAdjust="spacingAndGlyphs">W1</text>
<text x="87.6" y="8.4" font-size="9" fill="#444" text-anchor="start" font-weight="normal" textLength="14.8" lengthAdjust="spacingAndGlyphs">MN</text>
<text x="14.5" y="835" font-size="12.1" fill="#7a7a7a" text-anchor="start" font-weight="normal" textLength="84.25" lengthAdjust="spacingAndGlyphs">EURUSD-,Daily</text>
<text x="121.25" y="835" font-size="12.1" fill="#7a7a7a" text-anchor="start" font-weight="normal" textLength="86.25" lengthAdjust="spacingAndGlyphs">AUDUSD-,Daily</text>
<text x="231.25" y="835" font-size="12.1" fill="#7a7a7a" text-anchor="start" font-weight="normal" textLength="83.25" lengthAdjust="spacingAndGlyphs">USDCHF-,Daily</text>
<text x="338" y="835" font-size="12.1" fill="#7a7a7a" text-anchor="start" font-weight="normal" textLength="85.75" lengthAdjust="spacingAndGlyphs">USDCAD-,Daily</text>
<text x="558.75" y="835" font-size="12.1" fill="#7a7a7a" text-anchor="start" font-weight="normal" textLength="95.75" lengthAdjust="spacingAndGlyphs">EURCHF-,Weekly</text>
<text x="678" y="835" font-size="12.1" fill="#7a7a7a" text-anchor="start" font-weight="normal" textLength="85.75" lengthAdjust="spacingAndGlyphs">XAUUSD-,Daily</text>
<text x="786.25" y="835" font-size="12.1" fill="#7a7a7a" text-anchor="start" font-weight="normal" textLength="72.5" lengthAdjust="spacingAndGlyphs">GBPUSD-,H1</text>
<text x="882" y="835" font-size="12.1" fill="#7a7a7a" text-anchor="start" font-weight="normal" textLength="56" lengthAdjust="spacingAndGlyphs">UKOil-,H1</text>
<text x="961.25" y="835" font-size="12.1" fill="#7a7a7a" text-anchor="start" font-weight="normal" textLength="82.5" lengthAdjust="spacingAndGlyphs">USDX-,Weekly</text>
<text x="1066.25" y="835" font-size="12.1" fill="#7a7a7a" text-anchor="start" font-weight="normal" textLength="96.5" lengthAdjust="spacingAndGlyphs">EURCHF-,Weekly</text>
<text x="447.6" y="835" font-size="12.1" fill="#000" text-anchor="start" font-weight="normal" textLength="87.1" lengthAdjust="spacingAndGlyphs">USDCNH-,Daily</text>
<g shape-rendering="crispEdges">
<rect x="111" y="824" width="1" height="14" fill="#808080"/>
<rect x="219" y="824" width="1" height="14" fill="#808080"/>
<rect x="327" y="824" width="1" height="14" fill="#808080"/>
<rect x="667" y="824" width="1" height="14" fill="#808080"/>
<rect x="775" y="824" width="1" height="14" fill="#808080"/>
<rect x="871" y="824" width="1" height="14" fill="#808080"/>
<rect x="951" y="824" width="1" height="14" fill="#808080"/>
<rect x="1055" y="824" width="1" height="14" fill="#808080"/>
<rect x="1175" y="824" width="1" height="14" fill="#808080"/>
</g>
<polygon points="1436,825.5 1436,832.5 1432,829" fill="#a0a0a0"/>
<polygon points="1452,825.5 1452,832.5 1456,829" fill="#a0a0a0"/>
<g shape-rendering="crispEdges">
<rect x="5" y="41" width="52" height="25" fill="url(#gb)"/>
<rect x="172" y="41" width="52" height="25" fill="url(#gb)"/>
<rect x="5" y="65" width="109" height="40" fill="url(#gp)"/>
<rect x="116" y="65" width="108" height="40" fill="url(#gp)"/>
<rect x="5" y="41" width="52" height="1" fill="#0000b4"/>
<rect x="5" y="41" width="1" height="64" fill="#0000b4"/>
<rect x="56" y="41" width="1" height="24" fill="#0000b4"/>
<rect x="172" y="41" width="52" height="1" fill="#0000b4"/>
<rect x="223" y="41" width="1" height="64" fill="#0000b4"/>
<rect x="172" y="41" width="1" height="24" fill="#0000b4"/>
<rect x="5" y="104" width="109" height="1" fill="#0000b4"/>
<rect x="116" y="104" width="108" height="1" fill="#0000b4"/>
<rect x="113" y="65" width="1" height="40" fill="#0000b4"/>
<rect x="116" y="65" width="1" height="40" fill="#0000b4"/>
<rect x="57" y="65" width="57" height="1" fill="#0000b4"/>
<rect x="116" y="65" width="56" height="1" fill="#0000b4"/>
<rect x="9" y="64" width="44" height="1" fill="#1818a8"/>
<rect x="9" y="65" width="44" height="1" fill="#7070ec"/>
<rect x="176" y="64" width="44" height="1" fill="#1818a8"/>
<rect x="176" y="65" width="44" height="1" fill="#7070ec"/>
<rect x="59" y="41" width="111" height="22" fill="#b4b4b4"/>
<rect x="60" y="42" width="109" height="20" fill="#fff"/>
<rect x="60" y="42" width="20" height="20" fill="#f4f4f4"/>
<rect x="61" y="43" width="18" height="18" fill="url(#gs)"/>
<rect x="80" y="42" width="1" height="20" fill="#b4b4b4"/>
<rect x="149" y="42" width="20" height="20" fill="#f4f4f4"/>
<rect x="150" y="43" width="18" height="18" fill="url(#gs)"/>
<rect x="148" y="42" width="1" height="20" fill="#b4b4b4"/>
</g>
<polygon points="67,50.2 72.2,50.2 69.6,53.4" fill="#5468bc"/>
<polygon points="155.8,53.2 161,53.2 158.4,50" fill="#5468bc"/>
<text x="144.8" y="56.2" font-size="12.3" fill="#000" text-anchor="end" font-weight="normal">1.00</text>
<text x="17.6" y="57" font-size="12.2" fill="#e8e8ff" text-anchor="start" font-weight="normal" textLength="25.3" lengthAdjust="spacingAndGlyphs">SELL</text>
<text x="185.8" y="57" font-size="12.2" fill="#e8e8ff" text-anchor="start" font-weight="normal" textLength="22.7" lengthAdjust="spacingAndGlyphs">BUY</text>
<text x="24.6" y="96" font-size="11.6" fill="#fff" text-anchor="start" font-weight="bold" textLength="24" lengthAdjust="spacingAndGlyphs">7.05</text>
<text x="134.6" y="96" font-size="11.6" fill="#fff" text-anchor="start" font-weight="bold" textLength="24" lengthAdjust="spacingAndGlyphs">7.05</text>
<text x="51.9" y="96.3" font-size="35.1" fill="#fff" text-anchor="start" font-weight="normal" textLength="36.2" lengthAdjust="spacingAndGlyphs" stroke="url(#gpu)" stroke-width="0.55">07</text>
<text x="163.5" y="96.3" font-size="35.1" fill="#fff" text-anchor="start" font-weight="normal" textLength="36.2" lengthAdjust="spacingAndGlyphs" stroke="url(#gpu)" stroke-width="0.55">30</text>
<text x="91.5" y="80.1" font-size="12.4" fill="#fff" text-anchor="start" font-weight="bold">7</text>
<text x="203.2" y="80.1" font-size="12.4" fill="#fff" text-anchor="start" font-weight="bold">5</text>
</g>
</svg>
</body></html>
